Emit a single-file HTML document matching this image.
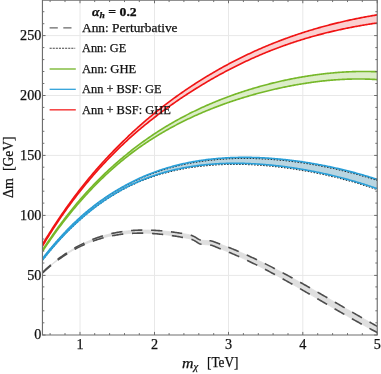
<!DOCTYPE html>
<html><head><meta charset="utf-8"><title>plot</title>
<style>
html,body{margin:0;padding:0;background:#fff}
body{width:381px;height:374px;position:relative;overflow:hidden;font-family:"Liberation Serif",serif;color:#111;-webkit-text-stroke:0.25px #111}
</style></head><body>
<div style="position:absolute;left:0;top:0;width:381px;height:374px;will-change:transform;opacity:0.999">
<svg width="381" height="374" viewBox="0 0 381 374" style="position:absolute;left:0;top:0"><defs><clipPath id="cp"><rect x="42.5" y="0.1" width="334.8" height="334.9"/></clipPath></defs><path d="M80.0,0.15 V335.0 M154.5,0.15 V335.0 M228.5,0.15 V335.0 M302.8,0.15 V335.0 M42.45,275.4 H377.25 M42.45,215.4 H377.25 M42.45,155.4 H377.25 M42.45,95.5 H377.25 M42.45,35.6 H377.25" stroke="#e8e8e8" stroke-width="1" fill="none"/><g clip-path="url(#cp)" fill="none"><path d="M42.5,272.43 L43.5,271.48 L44.5,270.54 L45.5,269.62 L46.5,268.71 L47.5,267.81 L48.5,266.92 L49.5,266.05 L50.5,265.19 L51.5,264.34 L52.5,263.51 L53.5,262.68 L54.5,261.87 L55.5,261.07 L56.5,260.29 L57.5,259.51 L58.5,258.75 L59.5,258.00 L60.5,257.26 L61.5,256.54 L62.5,255.82 L63.5,255.12 L64.5,254.43 L65.5,253.74 L66.5,253.08 L67.5,252.42 L68.5,251.77 L69.5,251.14 L70.5,250.51 L71.5,249.90 L72.5,249.30 L73.5,248.71 L74.5,248.12 L75.5,247.55 L76.5,247.00 L77.5,246.45 L78.5,245.91 L79.5,245.38 L80.5,244.86 L81.5,244.36 L82.5,243.86 L83.5,243.37 L84.5,242.90 L85.5,242.43 L86.5,241.98 L87.5,241.53 L88.5,241.09 L89.5,240.67 L90.5,240.25 L91.5,239.84 L92.5,239.44 L93.5,239.05 L94.5,238.68 L95.5,238.31 L96.5,237.94 L97.5,237.59 L98.5,237.25 L99.5,236.92 L100.5,236.59 L101.5,236.28 L102.5,235.97 L103.5,235.67 L104.5,235.38 L105.5,235.10 L106.5,234.83 L107.5,234.56 L108.5,234.31 L109.5,234.06 L110.5,233.82 L111.5,233.59 L112.5,233.37 L113.5,233.15 L114.5,232.95 L115.5,232.75 L116.5,232.55 L117.5,232.37 L118.5,232.20 L119.5,232.03 L120.5,231.87 L121.5,231.71 L122.5,231.57 L123.5,231.43 L124.5,231.29 L125.5,231.17 L126.5,231.05 L127.5,230.94 L128.4,230.84 L129.4,230.74 L130.4,230.65 L131.4,230.57 L132.4,230.49 L133.4,230.42 L134.4,230.36 L135.4,230.30 L136.4,230.25 L137.4,230.20 L138.4,230.16 L139.4,230.13 L140.4,230.11 L141.4,230.09 L142.4,230.07 L143.4,230.06 L144.4,230.06 L145.4,230.06 L146.4,230.07 L147.4,230.08 L148.4,230.10 L149.4,230.13 L150.4,230.16 L151.4,230.19 L152.4,230.23 L153.4,230.28 L154.4,230.33 L155.4,230.38 L156.4,230.44 L157.4,230.51 L158.4,230.58 L159.4,230.65 L160.4,230.73 L161.4,230.82 L162.4,230.91 L163.4,231.00 L164.4,231.09 L165.4,231.20 L166.4,231.30 L167.4,231.41 L168.4,231.52 L169.4,231.64 L170.4,231.76 L171.4,231.89 L172.4,232.02 L173.4,232.15 L174.4,232.28 L175.4,232.42 L176.4,232.57 L177.4,232.71 L178.4,232.86 L179.4,233.01 L180.4,233.17 L181.4,233.33 L182.4,233.49 L183.4,233.66 L184.4,233.83 L185.4,234.01 L186.4,234.19 L187.4,234.38 L188.4,234.59 L189.4,234.82 L190.4,235.08 L191.4,235.37 L192.4,235.73 L193.4,236.16 L194.4,236.61 L195.4,237.18 L196.4,237.81 L197.4,238.47 L198.4,239.09 L199.4,239.63 L200.4,240.02 L201.4,240.22 L202.4,240.30 L203.4,240.37 L204.4,240.43 L205.4,240.49 L206.4,240.54 L207.4,240.58 L208.4,240.64 L209.4,240.71 L210.4,240.80 L211.4,240.96 L212.4,241.21 L213.4,241.53 L214.4,241.90 L215.4,242.29 L216.4,242.69 L217.4,243.09 L218.4,243.49 L219.4,243.87 L220.4,244.25 L221.4,244.62 L222.4,244.99 L223.4,245.37 L224.4,245.74 L225.4,246.12 L226.4,246.51 L227.4,246.89 L228.4,247.28 L229.4,247.68 L230.4,248.08 L231.4,248.48 L232.4,248.88 L233.4,249.29 L234.4,249.70 L235.4,250.11 L236.4,250.53 L237.4,250.95 L238.4,251.37 L239.4,251.80 L240.4,252.23 L241.4,252.66 L242.4,253.10 L243.4,253.54 L244.4,253.98 L245.4,254.42 L246.4,254.87 L247.4,255.32 L248.4,255.77 L249.4,256.23 L250.4,256.69 L251.4,257.15 L252.4,257.61 L253.4,258.08 L254.4,258.55 L255.4,259.02 L256.4,259.49 L257.4,259.97 L258.4,260.45 L259.4,260.93 L260.4,261.42 L261.4,261.90 L262.4,262.39 L263.4,262.88 L264.4,263.38 L265.4,263.87 L266.4,264.37 L267.4,264.87 L268.4,265.37 L269.4,265.88 L270.4,266.39 L271.4,266.90 L272.4,267.41 L273.4,267.92 L274.4,268.44 L275.4,268.95 L276.4,269.47 L277.4,269.99 L278.4,270.52 L279.4,271.04 L280.4,271.57 L281.4,272.10 L282.4,272.63 L283.4,273.16 L284.4,273.69 L285.4,274.23 L286.4,274.77 L287.4,275.31 L288.4,275.85 L289.4,276.39 L290.4,276.93 L291.4,277.48 L292.4,278.02 L293.4,278.57 L294.4,279.12 L295.4,279.67 L296.4,280.22 L297.4,280.77 L298.4,281.33 L299.4,281.88 L300.4,282.44 L301.4,283.00 L302.4,283.56 L303.4,284.12 L304.4,284.68 L305.4,285.24 L306.4,285.80 L307.4,286.37 L308.4,286.93 L309.4,287.50 L310.4,288.07 L311.4,288.64 L312.4,289.20 L313.4,289.77 L314.4,290.34 L315.4,290.92 L316.4,291.49 L317.4,292.06 L318.4,292.63 L319.4,293.21 L320.4,293.78 L321.4,294.36 L322.4,294.93 L323.4,295.51 L324.4,296.08 L325.4,296.66 L326.4,297.24 L327.4,297.81 L328.4,298.39 L329.4,298.97 L330.4,299.55 L331.4,300.13 L332.4,300.71 L333.4,301.28 L334.4,301.86 L335.4,302.44 L336.4,303.02 L337.4,303.60 L338.4,304.18 L339.4,304.76 L340.4,305.34 L341.4,305.92 L342.4,306.50 L343.4,307.08 L344.4,307.66 L345.4,308.23 L346.4,308.81 L347.4,309.39 L348.4,309.97 L349.4,310.55 L350.4,311.12 L351.4,311.70 L352.4,312.28 L353.4,312.85 L354.4,313.43 L355.4,314.00 L356.4,314.58 L357.4,315.15 L358.4,315.72 L359.4,316.30 L360.4,316.87 L361.4,317.44 L362.4,318.01 L363.4,318.58 L364.4,319.15 L365.4,319.72 L366.4,320.28 L367.4,320.85 L368.4,321.42 L369.4,321.98 L370.4,322.54 L371.4,323.11 L372.4,323.67 L373.4,324.23 L374.4,324.79 L375.4,325.35 L377.2,326.35 L377.2,332.50 L375.4,331.55 L374.4,331.02 L373.4,330.49 L372.4,329.96 L371.4,329.43 L370.4,328.89 L369.4,328.35 L368.4,327.81 L367.4,327.27 L366.4,326.73 L365.4,326.19 L364.4,325.64 L363.4,325.09 L362.4,324.54 L361.4,323.99 L360.4,323.43 L359.4,322.88 L358.4,322.32 L357.4,321.77 L356.4,321.21 L355.4,320.65 L354.4,320.08 L353.4,319.52 L352.4,318.96 L351.4,318.39 L350.4,317.82 L349.4,317.26 L348.4,316.69 L347.4,316.12 L346.4,315.55 L345.4,314.97 L344.4,314.40 L343.4,313.83 L342.4,313.25 L341.4,312.68 L340.4,312.10 L339.4,311.52 L338.4,310.95 L337.4,310.37 L336.4,309.79 L335.4,309.21 L334.4,308.63 L333.4,308.05 L332.4,307.47 L331.4,306.88 L330.4,306.30 L329.4,305.72 L328.4,305.14 L327.4,304.55 L326.4,303.97 L325.4,303.39 L324.4,302.80 L323.4,302.22 L322.4,301.64 L321.4,301.05 L320.4,300.47 L319.4,299.89 L318.4,299.30 L317.4,298.72 L316.4,298.13 L315.4,297.55 L314.4,296.97 L313.4,296.39 L312.4,295.80 L311.4,295.22 L310.4,294.64 L309.4,294.06 L308.4,293.48 L307.4,292.90 L306.4,292.32 L305.4,291.74 L304.4,291.16 L303.4,290.58 L302.4,290.01 L301.4,289.43 L300.4,288.85 L299.4,288.28 L298.4,287.70 L297.4,287.13 L296.4,286.56 L295.4,285.99 L294.4,285.42 L293.4,284.85 L292.4,284.28 L291.4,283.72 L290.4,283.15 L289.4,282.59 L288.4,282.02 L287.4,281.46 L286.4,280.90 L285.4,280.34 L284.4,279.78 L283.4,279.23 L282.4,278.67 L281.4,278.12 L280.4,277.57 L279.4,277.02 L278.4,276.47 L277.4,275.92 L276.4,275.38 L275.4,274.83 L274.4,274.29 L273.4,273.75 L272.4,273.22 L271.4,272.68 L270.4,272.15 L269.4,271.61 L268.4,271.08 L267.4,270.56 L266.4,270.03 L265.4,269.51 L264.4,268.99 L263.4,268.47 L262.4,267.95 L261.4,267.44 L260.4,266.92 L259.4,266.41 L258.4,265.91 L257.4,265.40 L256.4,264.90 L255.4,264.40 L254.4,263.90 L253.4,263.41 L252.4,262.92 L251.4,262.43 L250.4,261.94 L249.4,261.46 L248.4,260.98 L247.4,260.50 L246.4,260.02 L245.4,259.55 L244.4,259.08 L243.4,258.62 L242.4,258.15 L241.4,257.69 L240.4,257.24 L239.4,256.78 L238.4,256.33 L237.4,255.89 L236.4,255.44 L235.4,255.00 L234.4,254.57 L233.4,254.13 L232.4,253.70 L231.4,253.27 L230.4,252.85 L229.4,252.43 L228.4,252.02 L227.4,251.60 L226.4,251.19 L225.4,250.79 L224.4,250.39 L223.4,249.99 L222.4,249.60 L221.4,249.21 L220.4,248.82 L219.4,248.42 L218.4,248.02 L217.4,247.60 L216.4,247.18 L215.4,246.75 L214.4,246.33 L213.4,245.93 L212.4,245.58 L211.4,245.29 L210.4,245.10 L209.4,244.99 L208.4,244.91 L207.4,244.84 L206.4,244.78 L205.4,244.71 L204.4,244.64 L203.4,244.55 L202.4,244.45 L201.4,244.32 L200.4,244.08 L199.4,243.67 L198.4,243.13 L197.4,242.50 L196.4,241.85 L195.4,241.20 L194.4,240.63 L193.4,240.13 L192.4,239.66 L191.4,239.28 L190.4,238.99 L189.4,238.75 L188.4,238.53 L187.4,238.33 L186.4,238.14 L185.4,237.95 L184.4,237.76 L183.4,237.57 L182.4,237.38 L181.4,237.19 L180.4,237.00 L179.4,236.82 L178.4,236.65 L177.4,236.49 L176.4,236.32 L175.4,236.16 L174.4,236.01 L173.4,235.85 L172.4,235.70 L171.4,235.56 L170.4,235.41 L169.4,235.27 L168.4,235.14 L167.4,235.00 L166.4,234.88 L165.4,234.75 L164.4,234.63 L163.4,234.51 L162.4,234.40 L161.4,234.29 L160.4,234.19 L159.4,234.09 L158.4,234.00 L157.4,233.91 L156.4,233.82 L155.4,233.74 L154.4,233.66 L153.4,233.59 L152.4,233.52 L151.4,233.46 L150.4,233.41 L149.4,233.35 L148.4,233.31 L147.4,233.27 L146.4,233.23 L145.4,233.20 L144.4,233.17 L143.4,233.15 L142.4,233.14 L141.4,233.13 L140.4,233.13 L139.4,233.13 L138.4,233.14 L137.4,233.16 L136.4,233.18 L135.4,233.21 L134.4,233.24 L133.4,233.28 L132.4,233.33 L131.4,233.38 L130.4,233.44 L129.4,233.51 L128.4,233.58 L127.5,233.66 L126.5,233.75 L125.5,233.84 L124.5,233.94 L123.5,234.05 L122.5,234.16 L121.5,234.28 L120.5,234.41 L119.5,234.55 L118.5,234.69 L117.5,234.84 L116.5,235.00 L115.5,235.17 L114.5,235.34 L113.5,235.52 L112.5,235.71 L111.5,235.91 L110.5,236.12 L109.5,236.33 L108.5,236.55 L107.5,236.78 L106.5,237.02 L105.5,237.27 L104.5,237.52 L103.5,237.79 L102.5,238.06 L101.5,238.34 L100.5,238.63 L99.5,238.93 L98.5,239.23 L97.5,239.55 L96.5,239.88 L95.5,240.21 L94.5,240.56 L93.5,240.91 L92.5,241.27 L91.5,241.64 L90.5,242.02 L89.5,242.42 L88.5,242.82 L87.5,243.23 L86.5,243.65 L85.5,244.08 L84.5,244.52 L83.5,244.97 L82.5,245.43 L81.5,245.90 L80.5,246.38 L79.5,246.87 L78.5,247.37 L77.5,247.88 L76.5,248.40 L75.5,248.94 L74.5,249.48 L73.5,250.03 L72.5,250.60 L71.5,251.18 L70.5,251.76 L69.5,252.36 L68.5,252.97 L67.5,253.59 L66.5,254.22 L65.5,254.86 L64.5,255.52 L63.5,256.19 L62.5,256.86 L61.5,257.55 L60.5,258.25 L59.5,258.97 L58.5,259.69 L57.5,260.43 L56.5,261.18 L55.5,261.94 L54.5,262.71 L53.5,263.49 L52.5,264.29 L51.5,265.10 L50.5,265.92 L49.5,266.76 L48.5,267.61 L47.5,268.47 L46.5,269.34 L45.5,270.23 L44.5,271.12 L43.5,272.04 L42.5,272.96Z" fill="#dfdfdf" stroke="#dfdfdf" stroke-width="1"/><path d="M42.5,272.43 L43.5,271.48 L44.5,270.54 L45.5,269.62 L46.5,268.71 L47.5,267.81 L48.5,266.92 L49.5,266.05 L50.5,265.19 L51.5,264.34 L52.5,263.51 L53.5,262.68 L54.5,261.87 L55.5,261.07 L56.5,260.29 L57.5,259.51 L58.5,258.75 L59.5,258.00 L60.5,257.26 L61.5,256.54 L62.5,255.82 L63.5,255.12 L64.5,254.43 L65.5,253.74 L66.5,253.08 L67.5,252.42 L68.5,251.77 L69.5,251.14 L70.5,250.51 L71.5,249.90 L72.5,249.30 L73.5,248.71 L74.5,248.12 L75.5,247.55 L76.5,247.00 L77.5,246.45 L78.5,245.91 L79.5,245.38 L80.5,244.86 L81.5,244.36 L82.5,243.86 L83.5,243.37 L84.5,242.90 L85.5,242.43 L86.5,241.98 L87.5,241.53 L88.5,241.09 L89.5,240.67 L90.5,240.25 L91.5,239.84 L92.5,239.44 L93.5,239.05 L94.5,238.68 L95.5,238.31 L96.5,237.94 L97.5,237.59 L98.5,237.25 L99.5,236.92 L100.5,236.59 L101.5,236.28 L102.5,235.97 L103.5,235.67 L104.5,235.38 L105.5,235.10 L106.5,234.83 L107.5,234.56 L108.5,234.31 L109.5,234.06 L110.5,233.82 L111.5,233.59 L112.5,233.37 L113.5,233.15 L114.5,232.95 L115.5,232.75 L116.5,232.55 L117.5,232.37 L118.5,232.20 L119.5,232.03 L120.5,231.87 L121.5,231.71 L122.5,231.57 L123.5,231.43 L124.5,231.29 L125.5,231.17 L126.5,231.05 L127.5,230.94 L128.4,230.84 L129.4,230.74 L130.4,230.65 L131.4,230.57 L132.4,230.49 L133.4,230.42 L134.4,230.36 L135.4,230.30 L136.4,230.25 L137.4,230.20 L138.4,230.16 L139.4,230.13 L140.4,230.11 L141.4,230.09 L142.4,230.07 L143.4,230.06 L144.4,230.06 L145.4,230.06 L146.4,230.07 L147.4,230.08 L148.4,230.10 L149.4,230.13 L150.4,230.16 L151.4,230.19 L152.4,230.23 L153.4,230.28 L154.4,230.33 L155.4,230.38 L156.4,230.44 L157.4,230.51 L158.4,230.58 L159.4,230.65 L160.4,230.73 L161.4,230.82 L162.4,230.91 L163.4,231.00 L164.4,231.09 L165.4,231.20 L166.4,231.30 L167.4,231.41 L168.4,231.52 L169.4,231.64 L170.4,231.76 L171.4,231.89 L172.4,232.02 L173.4,232.15 L174.4,232.28 L175.4,232.42 L176.4,232.57 L177.4,232.71 L178.4,232.86 L179.4,233.01 L180.4,233.17 L181.4,233.33 L182.4,233.49 L183.4,233.66 L184.4,233.83 L185.4,234.01 L186.4,234.19 L187.4,234.38 L188.4,234.59 L189.4,234.82 L190.4,235.08 L191.4,235.37 L192.4,235.73 L193.4,236.16 L194.4,236.61 L195.4,237.18 L196.4,237.81 L197.4,238.47 L198.4,239.09 L199.4,239.63 L200.4,240.02 L201.4,240.22 L202.4,240.30 L203.4,240.37 L204.4,240.43 L205.4,240.49 L206.4,240.54 L207.4,240.58 L208.4,240.64 L209.4,240.71 L210.4,240.80 L211.4,240.96 L212.4,241.21 L213.4,241.53 L214.4,241.90 L215.4,242.29 L216.4,242.69 L217.4,243.09 L218.4,243.49 L219.4,243.87 L220.4,244.25 L221.4,244.62 L222.4,244.99 L223.4,245.37 L224.4,245.74 L225.4,246.12 L226.4,246.51 L227.4,246.89 L228.4,247.28 L229.4,247.68 L230.4,248.08 L231.4,248.48 L232.4,248.88 L233.4,249.29 L234.4,249.70 L235.4,250.11 L236.4,250.53 L237.4,250.95 L238.4,251.37 L239.4,251.80 L240.4,252.23 L241.4,252.66 L242.4,253.10 L243.4,253.54 L244.4,253.98 L245.4,254.42 L246.4,254.87 L247.4,255.32 L248.4,255.77 L249.4,256.23 L250.4,256.69 L251.4,257.15 L252.4,257.61 L253.4,258.08 L254.4,258.55 L255.4,259.02 L256.4,259.49 L257.4,259.97 L258.4,260.45 L259.4,260.93 L260.4,261.42 L261.4,261.90 L262.4,262.39 L263.4,262.88 L264.4,263.38 L265.4,263.87 L266.4,264.37 L267.4,264.87 L268.4,265.37 L269.4,265.88 L270.4,266.39 L271.4,266.90 L272.4,267.41 L273.4,267.92 L274.4,268.44 L275.4,268.95 L276.4,269.47 L277.4,269.99 L278.4,270.52 L279.4,271.04 L280.4,271.57 L281.4,272.10 L282.4,272.63 L283.4,273.16 L284.4,273.69 L285.4,274.23 L286.4,274.77 L287.4,275.31 L288.4,275.85 L289.4,276.39 L290.4,276.93 L291.4,277.48 L292.4,278.02 L293.4,278.57 L294.4,279.12 L295.4,279.67 L296.4,280.22 L297.4,280.77 L298.4,281.33 L299.4,281.88 L300.4,282.44 L301.4,283.00 L302.4,283.56 L303.4,284.12 L304.4,284.68 L305.4,285.24 L306.4,285.80 L307.4,286.37 L308.4,286.93 L309.4,287.50 L310.4,288.07 L311.4,288.64 L312.4,289.20 L313.4,289.77 L314.4,290.34 L315.4,290.92 L316.4,291.49 L317.4,292.06 L318.4,292.63 L319.4,293.21 L320.4,293.78 L321.4,294.36 L322.4,294.93 L323.4,295.51 L324.4,296.08 L325.4,296.66 L326.4,297.24 L327.4,297.81 L328.4,298.39 L329.4,298.97 L330.4,299.55 L331.4,300.13 L332.4,300.71 L333.4,301.28 L334.4,301.86 L335.4,302.44 L336.4,303.02 L337.4,303.60 L338.4,304.18 L339.4,304.76 L340.4,305.34 L341.4,305.92 L342.4,306.50 L343.4,307.08 L344.4,307.66 L345.4,308.23 L346.4,308.81 L347.4,309.39 L348.4,309.97 L349.4,310.55 L350.4,311.12 L351.4,311.70 L352.4,312.28 L353.4,312.85 L354.4,313.43 L355.4,314.00 L356.4,314.58 L357.4,315.15 L358.4,315.72 L359.4,316.30 L360.4,316.87 L361.4,317.44 L362.4,318.01 L363.4,318.58 L364.4,319.15 L365.4,319.72 L366.4,320.28 L367.4,320.85 L368.4,321.42 L369.4,321.98 L370.4,322.54 L371.4,323.11 L372.4,323.67 L373.4,324.23 L374.4,324.79 L375.4,325.35 L377.2,326.35" stroke="#4d4d4d" stroke-width="1.6" stroke-dasharray="11.3 8.7"/><path d="M42.5,272.96 L43.5,272.04 L44.5,271.12 L45.5,270.23 L46.5,269.34 L47.5,268.47 L48.5,267.61 L49.5,266.76 L50.5,265.92 L51.5,265.10 L52.5,264.29 L53.5,263.49 L54.5,262.71 L55.5,261.94 L56.5,261.18 L57.5,260.43 L58.5,259.69 L59.5,258.97 L60.5,258.25 L61.5,257.55 L62.5,256.86 L63.5,256.19 L64.5,255.52 L65.5,254.86 L66.5,254.22 L67.5,253.59 L68.5,252.97 L69.5,252.36 L70.5,251.76 L71.5,251.18 L72.5,250.60 L73.5,250.03 L74.5,249.48 L75.5,248.94 L76.5,248.40 L77.5,247.88 L78.5,247.37 L79.5,246.87 L80.5,246.38 L81.5,245.90 L82.5,245.43 L83.5,244.97 L84.5,244.52 L85.5,244.08 L86.5,243.65 L87.5,243.23 L88.5,242.82 L89.5,242.42 L90.5,242.02 L91.5,241.64 L92.5,241.27 L93.5,240.91 L94.5,240.56 L95.5,240.21 L96.5,239.88 L97.5,239.55 L98.5,239.23 L99.5,238.93 L100.5,238.63 L101.5,238.34 L102.5,238.06 L103.5,237.79 L104.5,237.52 L105.5,237.27 L106.5,237.02 L107.5,236.78 L108.5,236.55 L109.5,236.33 L110.5,236.12 L111.5,235.91 L112.5,235.71 L113.5,235.52 L114.5,235.34 L115.5,235.17 L116.5,235.00 L117.5,234.84 L118.5,234.69 L119.5,234.55 L120.5,234.41 L121.5,234.28 L122.5,234.16 L123.5,234.05 L124.5,233.94 L125.5,233.84 L126.5,233.75 L127.5,233.66 L128.4,233.58 L129.4,233.51 L130.4,233.44 L131.4,233.38 L132.4,233.33 L133.4,233.28 L134.4,233.24 L135.4,233.21 L136.4,233.18 L137.4,233.16 L138.4,233.14 L139.4,233.13 L140.4,233.13 L141.4,233.13 L142.4,233.14 L143.4,233.15 L144.4,233.17 L145.4,233.20 L146.4,233.23 L147.4,233.27 L148.4,233.31 L149.4,233.35 L150.4,233.41 L151.4,233.46 L152.4,233.52 L153.4,233.59 L154.4,233.66 L155.4,233.74 L156.4,233.82 L157.4,233.91 L158.4,234.00 L159.4,234.09 L160.4,234.19 L161.4,234.29 L162.4,234.40 L163.4,234.51 L164.4,234.63 L165.4,234.75 L166.4,234.88 L167.4,235.00 L168.4,235.14 L169.4,235.27 L170.4,235.41 L171.4,235.56 L172.4,235.70 L173.4,235.85 L174.4,236.01 L175.4,236.16 L176.4,236.32 L177.4,236.49 L178.4,236.65 L179.4,236.82 L180.4,237.00 L181.4,237.19 L182.4,237.38 L183.4,237.57 L184.4,237.76 L185.4,237.95 L186.4,238.14 L187.4,238.33 L188.4,238.53 L189.4,238.75 L190.4,238.99 L191.4,239.28 L192.4,239.66 L193.4,240.13 L194.4,240.63 L195.4,241.20 L196.4,241.85 L197.4,242.50 L198.4,243.13 L199.4,243.67 L200.4,244.08 L201.4,244.32 L202.4,244.45 L203.4,244.55 L204.4,244.64 L205.4,244.71 L206.4,244.78 L207.4,244.84 L208.4,244.91 L209.4,244.99 L210.4,245.10 L211.4,245.29 L212.4,245.58 L213.4,245.93 L214.4,246.33 L215.4,246.75 L216.4,247.18 L217.4,247.60 L218.4,248.02 L219.4,248.42 L220.4,248.82 L221.4,249.21 L222.4,249.60 L223.4,249.99 L224.4,250.39 L225.4,250.79 L226.4,251.19 L227.4,251.60 L228.4,252.02 L229.4,252.43 L230.4,252.85 L231.4,253.27 L232.4,253.70 L233.4,254.13 L234.4,254.57 L235.4,255.00 L236.4,255.44 L237.4,255.89 L238.4,256.33 L239.4,256.78 L240.4,257.24 L241.4,257.69 L242.4,258.15 L243.4,258.62 L244.4,259.08 L245.4,259.55 L246.4,260.02 L247.4,260.50 L248.4,260.98 L249.4,261.46 L250.4,261.94 L251.4,262.43 L252.4,262.92 L253.4,263.41 L254.4,263.90 L255.4,264.40 L256.4,264.90 L257.4,265.40 L258.4,265.91 L259.4,266.41 L260.4,266.92 L261.4,267.44 L262.4,267.95 L263.4,268.47 L264.4,268.99 L265.4,269.51 L266.4,270.03 L267.4,270.56 L268.4,271.08 L269.4,271.61 L270.4,272.15 L271.4,272.68 L272.4,273.22 L273.4,273.75 L274.4,274.29 L275.4,274.83 L276.4,275.38 L277.4,275.92 L278.4,276.47 L279.4,277.02 L280.4,277.57 L281.4,278.12 L282.4,278.67 L283.4,279.23 L284.4,279.78 L285.4,280.34 L286.4,280.90 L287.4,281.46 L288.4,282.02 L289.4,282.59 L290.4,283.15 L291.4,283.72 L292.4,284.28 L293.4,284.85 L294.4,285.42 L295.4,285.99 L296.4,286.56 L297.4,287.13 L298.4,287.70 L299.4,288.28 L300.4,288.85 L301.4,289.43 L302.4,290.01 L303.4,290.58 L304.4,291.16 L305.4,291.74 L306.4,292.32 L307.4,292.90 L308.4,293.48 L309.4,294.06 L310.4,294.64 L311.4,295.22 L312.4,295.80 L313.4,296.39 L314.4,296.97 L315.4,297.55 L316.4,298.13 L317.4,298.72 L318.4,299.30 L319.4,299.89 L320.4,300.47 L321.4,301.05 L322.4,301.64 L323.4,302.22 L324.4,302.80 L325.4,303.39 L326.4,303.97 L327.4,304.55 L328.4,305.14 L329.4,305.72 L330.4,306.30 L331.4,306.88 L332.4,307.47 L333.4,308.05 L334.4,308.63 L335.4,309.21 L336.4,309.79 L337.4,310.37 L338.4,310.95 L339.4,311.52 L340.4,312.10 L341.4,312.68 L342.4,313.25 L343.4,313.83 L344.4,314.40 L345.4,314.97 L346.4,315.55 L347.4,316.12 L348.4,316.69 L349.4,317.26 L350.4,317.82 L351.4,318.39 L352.4,318.96 L353.4,319.52 L354.4,320.08 L355.4,320.65 L356.4,321.21 L357.4,321.77 L358.4,322.32 L359.4,322.88 L360.4,323.43 L361.4,323.99 L362.4,324.54 L363.4,325.09 L364.4,325.64 L365.4,326.19 L366.4,326.73 L367.4,327.27 L368.4,327.81 L369.4,328.35 L370.4,328.89 L371.4,329.43 L372.4,329.96 L373.4,330.49 L374.4,331.02 L375.4,331.55 L377.2,332.50" stroke="#4d4d4d" stroke-width="1.6" stroke-dasharray="11.3 8.7"/><path d="M42.5,258.64 L43.5,257.34 L44.5,256.06 L45.5,254.80 L46.5,253.54 L47.5,252.29 L48.5,251.06 L49.5,249.84 L50.5,248.63 L51.5,247.42 L52.5,246.23 L53.5,245.06 L54.5,243.89 L55.5,242.73 L56.5,241.58 L57.5,240.45 L58.5,239.32 L59.5,238.21 L60.5,237.10 L61.5,236.01 L62.5,234.92 L63.5,233.85 L64.5,232.79 L65.5,231.73 L66.5,230.69 L67.5,229.66 L68.5,228.63 L69.5,227.62 L70.5,226.62 L71.5,225.62 L72.5,224.64 L73.5,223.66 L74.5,222.70 L75.5,221.74 L76.5,220.80 L77.5,219.86 L78.5,218.93 L79.5,218.01 L80.5,217.11 L81.5,216.22 L82.5,215.34 L83.5,214.47 L84.5,213.61 L85.5,212.75 L86.5,211.91 L87.5,211.07 L88.5,210.25 L89.5,209.43 L90.5,208.62 L91.5,207.82 L92.5,207.03 L93.5,206.24 L94.5,205.47 L95.5,204.70 L96.5,203.94 L97.5,203.19 L98.5,202.45 L99.5,201.71 L100.5,200.99 L101.5,200.27 L102.5,199.56 L103.5,198.86 L104.5,198.16 L105.5,197.48 L106.5,196.80 L107.5,196.13 L108.5,195.47 L109.5,194.81 L110.5,194.16 L111.5,193.52 L112.5,192.89 L113.5,192.27 L114.5,191.65 L115.5,191.04 L116.5,190.43 L117.5,189.84 L118.5,189.25 L119.5,188.67 L120.5,188.09 L121.5,187.53 L122.5,186.97 L123.5,186.41 L124.5,185.87 L125.5,185.32 L126.5,184.78 L127.5,184.24 L128.4,183.71 L129.4,183.19 L130.4,182.67 L131.4,182.16 L132.4,181.66 L133.4,181.17 L134.4,180.68 L135.4,180.19 L136.4,179.71 L137.4,179.24 L138.4,178.78 L139.4,178.32 L140.4,177.87 L141.4,177.42 L142.4,176.98 L143.4,176.55 L144.4,176.12 L145.4,175.70 L146.4,175.28 L147.4,174.87 L148.4,174.47 L149.4,174.07 L150.4,173.67 L151.4,173.29 L152.4,172.91 L153.4,172.53 L154.4,172.16 L155.4,171.79 L156.4,171.44 L157.4,171.08 L158.4,170.73 L159.4,170.39 L160.4,170.05 L161.4,169.72 L162.4,169.39 L163.4,169.07 L164.4,168.76 L165.4,168.44 L166.4,168.14 L167.4,167.84 L168.4,167.54 L169.4,167.25 L170.4,166.96 L171.4,166.68 L172.4,166.41 L173.4,166.13 L174.4,165.87 L175.4,165.61 L176.4,165.35 L177.4,165.10 L178.4,164.85 L179.4,164.61 L180.4,164.37 L181.4,164.13 L182.4,163.90 L183.4,163.68 L184.4,163.46 L185.4,163.24 L186.4,163.03 L187.4,162.83 L188.4,162.62 L189.4,162.43 L190.4,162.23 L191.4,162.04 L192.4,161.86 L193.4,161.68 L194.4,161.50 L195.4,161.33 L196.4,161.16 L197.4,160.99 L198.4,160.83 L199.4,160.68 L200.4,160.52 L201.4,160.37 L202.4,160.23 L203.4,160.09 L204.4,159.95 L205.4,159.82 L206.4,159.69 L207.4,159.57 L208.4,159.44 L209.4,159.33 L210.4,159.21 L211.4,159.10 L212.4,159.00 L213.4,158.89 L214.4,158.79 L215.4,158.70 L216.4,158.60 L217.4,158.52 L218.4,158.43 L219.4,158.35 L220.4,158.27 L221.4,158.20 L222.4,158.12 L223.4,158.06 L224.4,157.99 L225.4,157.93 L226.4,157.87 L227.4,157.82 L228.4,157.77 L229.4,157.72 L230.4,157.67 L231.4,157.63 L232.4,157.59 L233.4,157.56 L234.4,157.53 L235.4,157.50 L236.4,157.47 L237.4,157.45 L238.4,157.43 L239.4,157.41 L240.4,157.40 L241.4,157.39 L242.4,157.38 L243.4,157.38 L244.4,157.37 L245.4,157.38 L246.4,157.38 L247.4,157.39 L248.4,157.40 L249.4,157.41 L250.4,157.43 L251.4,157.44 L252.4,157.47 L253.4,157.49 L254.4,157.52 L255.4,157.55 L256.4,157.58 L257.4,157.61 L258.4,157.65 L259.4,157.69 L260.4,157.74 L261.4,157.78 L262.4,157.83 L263.4,157.88 L264.4,157.94 L265.4,157.99 L266.4,158.05 L267.4,158.12 L268.4,158.18 L269.4,158.25 L270.4,158.32 L271.4,158.39 L272.4,158.46 L273.4,158.54 L274.4,158.62 L275.4,158.70 L276.4,158.79 L277.4,158.88 L278.4,158.96 L279.4,159.06 L280.4,159.15 L281.4,159.25 L282.4,159.35 L283.4,159.45 L284.4,159.56 L285.4,159.66 L286.4,159.77 L287.4,159.88 L288.4,160.00 L289.4,160.11 L290.4,160.23 L291.4,160.35 L292.4,160.48 L293.4,160.60 L294.4,160.73 L295.4,160.86 L296.4,160.99 L297.4,161.13 L298.4,161.27 L299.4,161.41 L300.4,161.55 L301.4,161.69 L302.4,161.84 L303.4,161.99 L304.4,162.14 L305.4,162.30 L306.4,162.45 L307.4,162.61 L308.4,162.77 L309.4,162.93 L310.4,163.10 L311.4,163.27 L312.4,163.44 L313.4,163.61 L314.4,163.78 L315.4,163.96 L316.4,164.14 L317.4,164.32 L318.4,164.50 L319.4,164.69 L320.4,164.88 L321.4,165.07 L322.4,165.26 L323.4,165.45 L324.4,165.65 L325.4,165.85 L326.4,166.05 L327.4,166.26 L328.4,166.46 L329.4,166.67 L330.4,166.88 L331.4,167.09 L332.4,167.31 L333.4,167.53 L334.4,167.75 L335.4,167.97 L336.4,168.19 L337.4,168.42 L338.4,168.65 L339.4,168.88 L340.4,169.12 L341.4,169.35 L342.4,169.59 L343.4,169.83 L344.4,170.07 L345.4,170.32 L346.4,170.57 L347.4,170.82 L348.4,171.07 L349.4,171.33 L350.4,171.58 L351.4,171.84 L352.4,172.10 L353.4,172.37 L354.4,172.64 L355.4,172.91 L356.4,173.18 L357.4,173.45 L358.4,173.73 L359.4,174.01 L360.4,174.29 L361.4,174.57 L362.4,174.86 L363.4,175.15 L364.4,175.44 L365.4,175.74 L366.4,176.03 L367.4,176.33 L368.4,176.63 L369.4,176.94 L370.4,177.25 L371.4,177.56 L372.4,177.87 L373.4,178.18 L374.4,178.50 L375.4,178.82 L377.2,179.40 L377.2,188.65 L375.4,188.03 L374.4,187.69 L373.4,187.35 L372.4,187.01 L371.4,186.67 L370.4,186.34 L369.4,186.01 L368.4,185.68 L367.4,185.36 L366.4,185.04 L365.4,184.72 L364.4,184.40 L363.4,184.09 L362.4,183.77 L361.4,183.46 L360.4,183.16 L359.4,182.85 L358.4,182.55 L357.4,182.25 L356.4,181.96 L355.4,181.66 L354.4,181.37 L353.4,181.08 L352.4,180.79 L351.4,180.51 L350.4,180.23 L349.4,179.95 L348.4,179.67 L347.4,179.40 L346.4,179.12 L345.4,178.85 L344.4,178.58 L343.4,178.32 L342.4,178.06 L341.4,177.80 L340.4,177.54 L339.4,177.28 L338.4,177.03 L337.4,176.77 L336.4,176.53 L335.4,176.28 L334.4,176.03 L333.4,175.79 L332.4,175.55 L331.4,175.31 L330.4,175.08 L329.4,174.84 L328.4,174.61 L327.4,174.38 L326.4,174.16 L325.4,173.93 L324.4,173.71 L323.4,173.49 L322.4,173.27 L321.4,173.06 L320.4,172.85 L319.4,172.63 L318.4,172.43 L317.4,172.22 L316.4,172.02 L315.4,171.81 L314.4,171.61 L313.4,171.42 L312.4,171.22 L311.4,171.03 L310.4,170.84 L309.4,170.65 L308.4,170.46 L307.4,170.28 L306.4,170.10 L305.4,169.92 L304.4,169.74 L303.4,169.56 L302.4,169.39 L301.4,169.22 L300.4,169.05 L299.4,168.89 L298.4,168.72 L297.4,168.56 L296.4,168.40 L295.4,168.24 L294.4,168.09 L293.4,167.94 L292.4,167.79 L291.4,167.64 L290.4,167.49 L289.4,167.35 L288.4,167.21 L287.4,167.07 L286.4,166.93 L285.4,166.80 L284.4,166.67 L283.4,166.54 L282.4,166.41 L281.4,166.29 L280.4,166.16 L279.4,166.04 L278.4,165.93 L277.4,165.81 L276.4,165.70 L275.4,165.59 L274.4,165.48 L273.4,165.38 L272.4,165.27 L271.4,165.17 L270.4,165.07 L269.4,164.98 L268.4,164.88 L267.4,164.79 L266.4,164.71 L265.4,164.62 L264.4,164.54 L263.4,164.46 L262.4,164.38 L261.4,164.30 L260.4,164.23 L259.4,164.16 L258.4,164.09 L257.4,164.03 L256.4,163.97 L255.4,163.91 L254.4,163.85 L253.4,163.80 L252.4,163.75 L251.4,163.70 L250.4,163.65 L249.4,163.61 L248.4,163.57 L247.4,163.53 L246.4,163.50 L245.4,163.46 L244.4,163.43 L243.4,163.41 L242.4,163.39 L241.4,163.37 L240.4,163.35 L239.4,163.33 L238.4,163.32 L237.4,163.31 L236.4,163.31 L235.4,163.31 L234.4,163.31 L233.4,163.31 L232.4,163.32 L231.4,163.33 L230.4,163.34 L229.4,163.35 L228.4,163.37 L227.4,163.40 L226.4,163.42 L225.4,163.45 L224.4,163.48 L223.4,163.52 L222.4,163.56 L221.4,163.60 L220.4,163.64 L219.4,163.69 L218.4,163.75 L217.4,163.80 L216.4,163.86 L215.4,163.92 L214.4,163.99 L213.4,164.06 L212.4,164.13 L211.4,164.21 L210.4,164.29 L209.4,164.37 L208.4,164.46 L207.4,164.55 L206.4,164.65 L205.4,164.75 L204.4,164.85 L203.4,164.96 L202.4,165.07 L201.4,165.18 L200.4,165.30 L199.4,165.42 L198.4,165.55 L197.4,165.68 L196.4,165.81 L195.4,165.95 L194.4,166.09 L193.4,166.24 L192.4,166.39 L191.4,166.54 L190.4,166.70 L189.4,166.86 L188.4,167.03 L187.4,167.20 L186.4,167.38 L185.4,167.56 L184.4,167.74 L183.4,167.93 L182.4,168.12 L181.4,168.32 L180.4,168.53 L179.4,168.73 L178.4,168.94 L177.4,169.16 L176.4,169.38 L175.4,169.61 L174.4,169.84 L173.4,170.07 L172.4,170.31 L171.4,170.56 L170.4,170.81 L169.4,171.06 L168.4,171.32 L167.4,171.59 L166.4,171.86 L165.4,172.13 L164.4,172.41 L163.4,172.70 L162.4,172.99 L161.4,173.28 L160.4,173.58 L159.4,173.89 L158.4,174.20 L157.4,174.52 L156.4,174.84 L155.4,175.17 L154.4,175.50 L153.4,175.84 L152.4,176.19 L151.4,176.54 L150.4,176.89 L149.4,177.25 L148.4,177.62 L147.4,178.00 L146.4,178.37 L145.4,178.76 L144.4,179.15 L143.4,179.55 L142.4,179.95 L141.4,180.36 L140.4,180.77 L139.4,181.20 L138.4,181.62 L137.4,182.06 L136.4,182.50 L135.4,182.95 L134.4,183.40 L133.4,183.86 L132.4,184.32 L131.4,184.80 L130.4,185.28 L129.4,185.76 L128.4,186.25 L127.5,186.75 L126.5,187.26 L125.5,187.77 L124.5,188.30 L123.5,188.83 L122.5,189.38 L121.5,189.93 L120.5,190.49 L119.5,191.05 L118.5,191.62 L117.5,192.20 L116.5,192.79 L115.5,193.38 L114.5,193.98 L113.5,194.59 L112.5,195.21 L111.5,195.83 L110.5,196.46 L109.5,197.10 L108.5,197.75 L107.5,198.40 L106.5,199.07 L105.5,199.74 L104.5,200.41 L103.5,201.10 L102.5,201.80 L101.5,202.50 L100.5,203.21 L99.5,203.93 L98.5,204.65 L97.5,205.39 L96.5,206.13 L95.5,206.88 L94.5,207.64 L93.5,208.41 L92.5,209.19 L91.5,209.98 L90.5,210.77 L89.5,211.58 L88.5,212.39 L87.5,213.21 L86.5,214.04 L85.5,214.88 L84.5,215.73 L83.5,216.59 L82.5,217.45 L81.5,218.33 L80.5,219.21 L79.5,220.10 L78.5,221.00 L77.5,221.90 L76.5,222.81 L75.5,223.74 L74.5,224.67 L73.5,225.61 L72.5,226.56 L71.5,227.52 L70.5,228.50 L69.5,229.48 L68.5,230.47 L67.5,231.47 L66.5,232.48 L65.5,233.51 L64.5,234.54 L63.5,235.58 L62.5,236.63 L61.5,237.70 L60.5,238.77 L59.5,239.86 L58.5,240.95 L57.5,242.06 L56.5,243.18 L55.5,244.31 L54.5,245.45 L53.5,246.60 L52.5,247.76 L51.5,248.93 L50.5,250.11 L49.5,251.31 L48.5,252.52 L47.5,253.73 L46.5,254.96 L45.5,256.20 L44.5,257.46 L43.5,258.72 L42.5,260.00Z" fill="#b9d5e1"/><path d="M42.5,258.79 L43.5,257.49 L44.5,256.21 L45.5,254.95 L46.5,253.69 L47.5,252.44 L48.5,251.21 L49.5,249.99 L50.5,248.78 L51.5,247.57 L52.5,246.38 L53.5,245.21 L54.5,244.04 L55.5,242.88 L56.5,241.73 L57.5,240.60 L58.5,239.47 L59.5,238.36 L60.5,237.25 L61.5,236.16 L62.5,235.07 L63.5,234.00 L64.5,232.94 L65.5,231.88 L66.5,230.84 L67.5,229.81 L68.5,228.78 L69.5,227.77 L70.5,226.77 L71.5,225.77 L72.5,224.79 L73.5,223.81 L74.5,222.85 L75.5,221.89 L76.5,220.95 L77.5,220.01 L78.5,219.08 L79.5,218.16 L80.5,217.26 L81.5,216.37 L82.5,215.49 L83.5,214.62 L84.5,213.76 L85.5,212.90 L86.5,212.06 L87.5,211.22 L88.5,210.40 L89.5,209.58 L90.5,208.77 L91.5,207.98 L92.5,207.19 L93.5,206.42 L94.5,205.65 L95.5,204.89 L96.5,204.14 L97.5,203.40 L98.5,202.66 L99.5,201.94 L100.5,201.22 L101.5,200.51 L102.5,199.81 L103.5,199.11 L104.5,198.43 L105.5,197.75 L106.5,197.08 L107.5,196.41 L108.5,195.76 L109.5,195.11 L110.5,194.47 L111.5,193.84 L112.5,193.21 L113.5,192.60 L114.5,191.99 L115.5,191.38 L116.5,190.79 L117.5,190.20 L118.5,189.62 L119.5,189.05 L120.5,188.48 L121.5,187.92 L122.5,187.37 L123.5,186.82 L124.5,186.28 L125.5,185.75 L126.5,185.21 L127.5,184.68 L128.4,184.16 L129.4,183.65 L130.4,183.14 L131.4,182.64 L132.4,182.14 L133.4,181.65 L134.4,181.17 L135.4,180.69 L136.4,180.22 L137.4,179.76 L138.4,179.30 L139.4,178.85 L140.4,178.41 L141.4,177.97 L142.4,177.54 L143.4,177.11 L144.4,176.69 L145.4,176.28 L146.4,175.87 L147.4,175.46 L148.4,175.07 L149.4,174.68 L150.4,174.29 L151.4,173.91 L152.4,173.54 L153.4,173.17 L154.4,172.81 L155.4,172.45 L156.4,172.10 L157.4,171.75 L158.4,171.41 L159.4,171.08 L160.4,170.75 L161.4,170.42 L162.4,170.10 L163.4,169.79 L164.4,169.48 L165.4,169.18 L166.4,168.88 L167.4,168.58 L168.4,168.30 L169.4,168.01 L170.4,167.73 L171.4,167.46 L172.4,167.19 L173.4,166.93 L174.4,166.67 L175.4,166.42 L176.4,166.17 L177.4,165.92 L178.4,165.68 L179.4,165.45 L180.4,165.22 L181.4,164.99 L182.4,164.77 L183.4,164.55 L184.4,164.34 L185.4,164.13 L186.4,163.93 L187.4,163.73 L188.4,163.53 L189.4,163.34 L190.4,163.16 L191.4,162.98 L192.4,162.80 L193.4,162.63 L194.4,162.46 L195.4,162.29 L196.4,162.13 L197.4,161.97 L198.4,161.82 L199.4,161.67 L200.4,161.52 L201.4,161.37 L202.4,161.23 L203.4,161.09 L204.4,160.95 L205.4,160.82 L206.4,160.69 L207.4,160.57 L208.4,160.44 L209.4,160.33 L210.4,160.21 L211.4,160.10 L212.4,160.00 L213.4,159.89 L214.4,159.79 L215.4,159.70 L216.4,159.60 L217.4,159.52 L218.4,159.43 L219.4,159.35 L220.4,159.27 L221.4,159.20 L222.4,159.12 L223.4,159.06 L224.4,158.99 L225.4,158.93 L226.4,158.87 L227.4,158.82 L228.4,158.77 L229.4,158.72 L230.4,158.67 L231.4,158.63 L232.4,158.59 L233.4,158.56 L234.4,158.53 L235.4,158.50 L236.4,158.47 L237.4,158.45 L238.4,158.43 L239.4,158.41 L240.4,158.40 L241.4,158.39 L242.4,158.38 L243.4,158.38 L244.4,158.37 L245.4,158.38 L246.4,158.38 L247.4,158.39 L248.4,158.40 L249.4,158.41 L250.4,158.43 L251.4,158.44 L252.4,158.47 L253.4,158.49 L254.4,158.52 L255.4,158.55 L256.4,158.58 L257.4,158.61 L258.4,158.65 L259.4,158.69 L260.4,158.74 L261.4,158.78 L262.4,158.83 L263.4,158.88 L264.4,158.94 L265.4,158.99 L266.4,159.05 L267.4,159.12 L268.4,159.18 L269.4,159.25 L270.4,159.32 L271.4,159.39 L272.4,159.46 L273.4,159.54 L274.4,159.62 L275.4,159.70 L276.4,159.79 L277.4,159.88 L278.4,159.96 L279.4,160.06 L280.4,160.15 L281.4,160.25 L282.4,160.35 L283.4,160.45 L284.4,160.56 L285.4,160.66 L286.4,160.77 L287.4,160.88 L288.4,161.00 L289.4,161.11 L290.4,161.23 L291.4,161.35 L292.4,161.48 L293.4,161.60 L294.4,161.73 L295.4,161.86 L296.4,161.99 L297.4,162.13 L298.4,162.27 L299.4,162.41 L300.4,162.55 L301.4,162.69 L302.4,162.84 L303.4,162.99 L304.4,163.14 L305.4,163.30 L306.4,163.45 L307.4,163.61 L308.4,163.77 L309.4,163.93 L310.4,164.10 L311.4,164.27 L312.4,164.44 L313.4,164.61 L314.4,164.78 L315.4,164.96 L316.4,165.14 L317.4,165.32 L318.4,165.50 L319.4,165.69 L320.4,165.88 L321.4,166.07 L322.4,166.26 L323.4,166.45 L324.4,166.65 L325.4,166.85 L326.4,167.05 L327.4,167.26 L328.4,167.46 L329.4,167.67 L330.4,167.88 L331.4,168.09 L332.4,168.31 L333.4,168.53 L334.4,168.75 L335.4,168.97 L336.4,169.19 L337.4,169.42 L338.4,169.65 L339.4,169.88 L340.4,170.12 L341.4,170.35 L342.4,170.59 L343.4,170.83 L344.4,171.07 L345.4,171.32 L346.4,171.57 L347.4,171.82 L348.4,172.07 L349.4,172.33 L350.4,172.58 L351.4,172.84 L352.4,173.10 L353.4,173.37 L354.4,173.64 L355.4,173.91 L356.4,174.18 L357.4,174.45 L358.4,174.73 L359.4,175.01 L360.4,175.29 L361.4,175.57 L362.4,175.86 L363.4,176.15 L364.4,176.44 L365.4,176.74 L366.4,177.03 L367.4,177.33 L368.4,177.63 L369.4,177.94 L370.4,178.25 L371.4,178.56 L372.4,178.87 L373.4,179.18 L374.4,179.50 L375.4,179.82 L377.2,180.40" stroke="#222" stroke-width="1.2" stroke-dasharray="1.5 1.5"/><path d="M42.5,260.15 L43.5,258.87 L44.5,257.61 L45.5,256.35 L46.5,255.11 L47.5,253.88 L48.5,252.67 L49.5,251.46 L50.5,250.26 L51.5,249.08 L52.5,247.91 L53.5,246.75 L54.5,245.60 L55.5,244.46 L56.5,243.33 L57.5,242.21 L58.5,241.10 L59.5,240.01 L60.5,238.92 L61.5,237.85 L62.5,236.78 L63.5,235.73 L64.5,234.69 L65.5,233.66 L66.5,232.63 L67.5,231.62 L68.5,230.62 L69.5,229.63 L70.5,228.65 L71.5,227.67 L72.5,226.71 L73.5,225.76 L74.5,224.82 L75.5,223.89 L76.5,222.96 L77.5,222.05 L78.5,221.15 L79.5,220.25 L80.5,219.36 L81.5,218.48 L82.5,217.60 L83.5,216.74 L84.5,215.88 L85.5,215.03 L86.5,214.19 L87.5,213.36 L88.5,212.54 L89.5,211.73 L90.5,210.93 L91.5,210.14 L92.5,209.36 L93.5,208.59 L94.5,207.83 L95.5,207.08 L96.5,206.33 L97.5,205.60 L98.5,204.87 L99.5,204.15 L100.5,203.44 L101.5,202.74 L102.5,202.04 L103.5,201.35 L104.5,200.68 L105.5,200.01 L106.5,199.34 L107.5,198.69 L108.5,198.04 L109.5,197.40 L110.5,196.77 L111.5,196.15 L112.5,195.53 L113.5,194.92 L114.5,194.32 L115.5,193.73 L116.5,193.14 L117.5,192.56 L118.5,191.99 L119.5,191.43 L120.5,190.87 L121.5,190.32 L122.5,189.78 L123.5,189.24 L124.5,188.71 L125.5,188.20 L126.5,187.69 L127.5,187.19 L128.4,186.70 L129.4,186.22 L130.4,185.74 L131.4,185.27 L132.4,184.80 L133.4,184.34 L134.4,183.89 L135.4,183.45 L136.4,183.01 L137.4,182.57 L138.4,182.15 L139.4,181.73 L140.4,181.31 L141.4,180.91 L142.4,180.51 L143.4,180.11 L144.4,179.72 L145.4,179.34 L146.4,178.96 L147.4,178.59 L148.4,178.22 L149.4,177.86 L150.4,177.51 L151.4,177.16 L152.4,176.82 L153.4,176.48 L154.4,176.15 L155.4,175.83 L156.4,175.50 L157.4,175.19 L158.4,174.88 L159.4,174.58 L160.4,174.28 L161.4,173.99 L162.4,173.70 L163.4,173.41 L164.4,173.14 L165.4,172.86 L166.4,172.60 L167.4,172.34 L168.4,172.08 L169.4,171.83 L170.4,171.58 L171.4,171.34 L172.4,171.10 L173.4,170.87 L174.4,170.64 L175.4,170.42 L176.4,170.20 L177.4,169.99 L178.4,169.78 L179.4,169.57 L180.4,169.37 L181.4,169.18 L182.4,168.99 L183.4,168.80 L184.4,168.62 L185.4,168.45 L186.4,168.27 L187.4,168.10 L188.4,167.94 L189.4,167.78 L190.4,167.63 L191.4,167.48 L192.4,167.33 L193.4,167.19 L194.4,167.05 L195.4,166.91 L196.4,166.78 L197.4,166.66 L198.4,166.53 L199.4,166.42 L200.4,166.30 L201.4,166.18 L202.4,166.07 L203.4,165.96 L204.4,165.85 L205.4,165.75 L206.4,165.65 L207.4,165.55 L208.4,165.46 L209.4,165.37 L210.4,165.29 L211.4,165.21 L212.4,165.13 L213.4,165.06 L214.4,164.99 L215.4,164.92 L216.4,164.86 L217.4,164.80 L218.4,164.75 L219.4,164.69 L220.4,164.64 L221.4,164.60 L222.4,164.56 L223.4,164.52 L224.4,164.48 L225.4,164.45 L226.4,164.42 L227.4,164.40 L228.4,164.37 L229.4,164.35 L230.4,164.34 L231.4,164.33 L232.4,164.32 L233.4,164.31 L234.4,164.31 L235.4,164.31 L236.4,164.31 L237.4,164.31 L238.4,164.32 L239.4,164.33 L240.4,164.35 L241.4,164.37 L242.4,164.39 L243.4,164.41 L244.4,164.43 L245.4,164.46 L246.4,164.50 L247.4,164.53 L248.4,164.57 L249.4,164.61 L250.4,164.65 L251.4,164.70 L252.4,164.75 L253.4,164.80 L254.4,164.85 L255.4,164.91 L256.4,164.97 L257.4,165.03 L258.4,165.09 L259.4,165.16 L260.4,165.23 L261.4,165.30 L262.4,165.38 L263.4,165.46 L264.4,165.54 L265.4,165.62 L266.4,165.71 L267.4,165.79 L268.4,165.88 L269.4,165.98 L270.4,166.07 L271.4,166.17 L272.4,166.27 L273.4,166.38 L274.4,166.48 L275.4,166.59 L276.4,166.70 L277.4,166.81 L278.4,166.93 L279.4,167.04 L280.4,167.16 L281.4,167.29 L282.4,167.41 L283.4,167.54 L284.4,167.67 L285.4,167.80 L286.4,167.93 L287.4,168.07 L288.4,168.21 L289.4,168.35 L290.4,168.49 L291.4,168.64 L292.4,168.79 L293.4,168.94 L294.4,169.09 L295.4,169.24 L296.4,169.40 L297.4,169.56 L298.4,169.72 L299.4,169.89 L300.4,170.05 L301.4,170.22 L302.4,170.39 L303.4,170.56 L304.4,170.74 L305.4,170.92 L306.4,171.10 L307.4,171.28 L308.4,171.46 L309.4,171.65 L310.4,171.84 L311.4,172.03 L312.4,172.22 L313.4,172.42 L314.4,172.61 L315.4,172.81 L316.4,173.02 L317.4,173.22 L318.4,173.43 L319.4,173.63 L320.4,173.85 L321.4,174.06 L322.4,174.27 L323.4,174.49 L324.4,174.71 L325.4,174.93 L326.4,175.16 L327.4,175.38 L328.4,175.61 L329.4,175.84 L330.4,176.08 L331.4,176.31 L332.4,176.55 L333.4,176.79 L334.4,177.03 L335.4,177.28 L336.4,177.53 L337.4,177.77 L338.4,178.03 L339.4,178.28 L340.4,178.54 L341.4,178.80 L342.4,179.06 L343.4,179.32 L344.4,179.58 L345.4,179.85 L346.4,180.12 L347.4,180.40 L348.4,180.67 L349.4,180.95 L350.4,181.23 L351.4,181.51 L352.4,181.79 L353.4,182.08 L354.4,182.37 L355.4,182.66 L356.4,182.96 L357.4,183.25 L358.4,183.55 L359.4,183.85 L360.4,184.16 L361.4,184.46 L362.4,184.77 L363.4,185.09 L364.4,185.40 L365.4,185.72 L366.4,186.04 L367.4,186.36 L368.4,186.68 L369.4,187.01 L370.4,187.34 L371.4,187.67 L372.4,188.01 L373.4,188.35 L374.4,188.69 L375.4,189.03 L377.2,189.65" stroke="#222" stroke-width="1.2" stroke-dasharray="1.5 1.5"/><path d="M42.5,258.64 L43.5,257.34 L44.5,256.06 L45.5,254.80 L46.5,253.54 L47.5,252.29 L48.5,251.06 L49.5,249.84 L50.5,248.63 L51.5,247.42 L52.5,246.23 L53.5,245.06 L54.5,243.89 L55.5,242.73 L56.5,241.58 L57.5,240.45 L58.5,239.32 L59.5,238.21 L60.5,237.10 L61.5,236.01 L62.5,234.92 L63.5,233.85 L64.5,232.79 L65.5,231.73 L66.5,230.69 L67.5,229.66 L68.5,228.63 L69.5,227.62 L70.5,226.62 L71.5,225.62 L72.5,224.64 L73.5,223.66 L74.5,222.70 L75.5,221.74 L76.5,220.80 L77.5,219.86 L78.5,218.93 L79.5,218.01 L80.5,217.11 L81.5,216.22 L82.5,215.34 L83.5,214.47 L84.5,213.61 L85.5,212.75 L86.5,211.91 L87.5,211.07 L88.5,210.25 L89.5,209.43 L90.5,208.62 L91.5,207.82 L92.5,207.03 L93.5,206.24 L94.5,205.47 L95.5,204.70 L96.5,203.94 L97.5,203.19 L98.5,202.45 L99.5,201.71 L100.5,200.99 L101.5,200.27 L102.5,199.56 L103.5,198.86 L104.5,198.16 L105.5,197.48 L106.5,196.80 L107.5,196.13 L108.5,195.47 L109.5,194.81 L110.5,194.16 L111.5,193.52 L112.5,192.89 L113.5,192.27 L114.5,191.65 L115.5,191.04 L116.5,190.43 L117.5,189.84 L118.5,189.25 L119.5,188.67 L120.5,188.09 L121.5,187.53 L122.5,186.97 L123.5,186.41 L124.5,185.87 L125.5,185.32 L126.5,184.78 L127.5,184.24 L128.4,183.71 L129.4,183.19 L130.4,182.67 L131.4,182.16 L132.4,181.66 L133.4,181.17 L134.4,180.68 L135.4,180.19 L136.4,179.71 L137.4,179.24 L138.4,178.78 L139.4,178.32 L140.4,177.87 L141.4,177.42 L142.4,176.98 L143.4,176.55 L144.4,176.12 L145.4,175.70 L146.4,175.28 L147.4,174.87 L148.4,174.47 L149.4,174.07 L150.4,173.67 L151.4,173.29 L152.4,172.91 L153.4,172.53 L154.4,172.16 L155.4,171.79 L156.4,171.44 L157.4,171.08 L158.4,170.73 L159.4,170.39 L160.4,170.05 L161.4,169.72 L162.4,169.39 L163.4,169.07 L164.4,168.76 L165.4,168.44 L166.4,168.14 L167.4,167.84 L168.4,167.54 L169.4,167.25 L170.4,166.96 L171.4,166.68 L172.4,166.41 L173.4,166.13 L174.4,165.87 L175.4,165.61 L176.4,165.35 L177.4,165.10 L178.4,164.85 L179.4,164.61 L180.4,164.37 L181.4,164.13 L182.4,163.90 L183.4,163.68 L184.4,163.46 L185.4,163.24 L186.4,163.03 L187.4,162.83 L188.4,162.62 L189.4,162.43 L190.4,162.23 L191.4,162.04 L192.4,161.86 L193.4,161.68 L194.4,161.50 L195.4,161.33 L196.4,161.16 L197.4,160.99 L198.4,160.83 L199.4,160.68 L200.4,160.52 L201.4,160.37 L202.4,160.23 L203.4,160.09 L204.4,159.95 L205.4,159.82 L206.4,159.69 L207.4,159.57 L208.4,159.44 L209.4,159.33 L210.4,159.21 L211.4,159.10 L212.4,159.00 L213.4,158.89 L214.4,158.79 L215.4,158.70 L216.4,158.60 L217.4,158.52 L218.4,158.43 L219.4,158.35 L220.4,158.27 L221.4,158.20 L222.4,158.12 L223.4,158.06 L224.4,157.99 L225.4,157.93 L226.4,157.87 L227.4,157.82 L228.4,157.77 L229.4,157.72 L230.4,157.67 L231.4,157.63 L232.4,157.59 L233.4,157.56 L234.4,157.53 L235.4,157.50 L236.4,157.47 L237.4,157.45 L238.4,157.43 L239.4,157.41 L240.4,157.40 L241.4,157.39 L242.4,157.38 L243.4,157.38 L244.4,157.37 L245.4,157.38 L246.4,157.38 L247.4,157.39 L248.4,157.40 L249.4,157.41 L250.4,157.43 L251.4,157.44 L252.4,157.47 L253.4,157.49 L254.4,157.52 L255.4,157.55 L256.4,157.58 L257.4,157.61 L258.4,157.65 L259.4,157.69 L260.4,157.74 L261.4,157.78 L262.4,157.83 L263.4,157.88 L264.4,157.94 L265.4,157.99 L266.4,158.05 L267.4,158.12 L268.4,158.18 L269.4,158.25 L270.4,158.32 L271.4,158.39 L272.4,158.46 L273.4,158.54 L274.4,158.62 L275.4,158.70 L276.4,158.79 L277.4,158.88 L278.4,158.96 L279.4,159.06 L280.4,159.15 L281.4,159.25 L282.4,159.35 L283.4,159.45 L284.4,159.56 L285.4,159.66 L286.4,159.77 L287.4,159.88 L288.4,160.00 L289.4,160.11 L290.4,160.23 L291.4,160.35 L292.4,160.48 L293.4,160.60 L294.4,160.73 L295.4,160.86 L296.4,160.99 L297.4,161.13 L298.4,161.27 L299.4,161.41 L300.4,161.55 L301.4,161.69 L302.4,161.84 L303.4,161.99 L304.4,162.14 L305.4,162.30 L306.4,162.45 L307.4,162.61 L308.4,162.77 L309.4,162.93 L310.4,163.10 L311.4,163.27 L312.4,163.44 L313.4,163.61 L314.4,163.78 L315.4,163.96 L316.4,164.14 L317.4,164.32 L318.4,164.50 L319.4,164.69 L320.4,164.88 L321.4,165.07 L322.4,165.26 L323.4,165.45 L324.4,165.65 L325.4,165.85 L326.4,166.05 L327.4,166.26 L328.4,166.46 L329.4,166.67 L330.4,166.88 L331.4,167.09 L332.4,167.31 L333.4,167.53 L334.4,167.75 L335.4,167.97 L336.4,168.19 L337.4,168.42 L338.4,168.65 L339.4,168.88 L340.4,169.12 L341.4,169.35 L342.4,169.59 L343.4,169.83 L344.4,170.07 L345.4,170.32 L346.4,170.57 L347.4,170.82 L348.4,171.07 L349.4,171.33 L350.4,171.58 L351.4,171.84 L352.4,172.10 L353.4,172.37 L354.4,172.64 L355.4,172.91 L356.4,173.18 L357.4,173.45 L358.4,173.73 L359.4,174.01 L360.4,174.29 L361.4,174.57 L362.4,174.86 L363.4,175.15 L364.4,175.44 L365.4,175.74 L366.4,176.03 L367.4,176.33 L368.4,176.63 L369.4,176.94 L370.4,177.25 L371.4,177.56 L372.4,177.87 L373.4,178.18 L374.4,178.50 L375.4,178.82 L377.2,179.40" stroke="#2a9fd8" stroke-width="1.65"/><path d="M42.5,260.00 L43.5,258.72 L44.5,257.46 L45.5,256.20 L46.5,254.96 L47.5,253.73 L48.5,252.52 L49.5,251.31 L50.5,250.11 L51.5,248.93 L52.5,247.76 L53.5,246.60 L54.5,245.45 L55.5,244.31 L56.5,243.18 L57.5,242.06 L58.5,240.95 L59.5,239.86 L60.5,238.77 L61.5,237.70 L62.5,236.63 L63.5,235.58 L64.5,234.54 L65.5,233.51 L66.5,232.48 L67.5,231.47 L68.5,230.47 L69.5,229.48 L70.5,228.50 L71.5,227.52 L72.5,226.56 L73.5,225.61 L74.5,224.67 L75.5,223.74 L76.5,222.81 L77.5,221.90 L78.5,221.00 L79.5,220.10 L80.5,219.21 L81.5,218.33 L82.5,217.45 L83.5,216.59 L84.5,215.73 L85.5,214.88 L86.5,214.04 L87.5,213.21 L88.5,212.39 L89.5,211.58 L90.5,210.77 L91.5,209.98 L92.5,209.19 L93.5,208.41 L94.5,207.64 L95.5,206.88 L96.5,206.13 L97.5,205.39 L98.5,204.65 L99.5,203.93 L100.5,203.21 L101.5,202.50 L102.5,201.80 L103.5,201.10 L104.5,200.41 L105.5,199.74 L106.5,199.07 L107.5,198.40 L108.5,197.75 L109.5,197.10 L110.5,196.46 L111.5,195.83 L112.5,195.21 L113.5,194.59 L114.5,193.98 L115.5,193.38 L116.5,192.79 L117.5,192.20 L118.5,191.62 L119.5,191.05 L120.5,190.49 L121.5,189.93 L122.5,189.38 L123.5,188.83 L124.5,188.30 L125.5,187.77 L126.5,187.26 L127.5,186.75 L128.4,186.25 L129.4,185.76 L130.4,185.28 L131.4,184.80 L132.4,184.32 L133.4,183.86 L134.4,183.40 L135.4,182.95 L136.4,182.50 L137.4,182.06 L138.4,181.62 L139.4,181.20 L140.4,180.77 L141.4,180.36 L142.4,179.95 L143.4,179.55 L144.4,179.15 L145.4,178.76 L146.4,178.37 L147.4,178.00 L148.4,177.62 L149.4,177.25 L150.4,176.89 L151.4,176.54 L152.4,176.19 L153.4,175.84 L154.4,175.50 L155.4,175.17 L156.4,174.84 L157.4,174.52 L158.4,174.20 L159.4,173.89 L160.4,173.58 L161.4,173.28 L162.4,172.99 L163.4,172.70 L164.4,172.41 L165.4,172.13 L166.4,171.86 L167.4,171.59 L168.4,171.32 L169.4,171.06 L170.4,170.81 L171.4,170.56 L172.4,170.31 L173.4,170.07 L174.4,169.84 L175.4,169.61 L176.4,169.38 L177.4,169.16 L178.4,168.94 L179.4,168.73 L180.4,168.53 L181.4,168.32 L182.4,168.12 L183.4,167.93 L184.4,167.74 L185.4,167.56 L186.4,167.38 L187.4,167.20 L188.4,167.03 L189.4,166.86 L190.4,166.70 L191.4,166.54 L192.4,166.39 L193.4,166.24 L194.4,166.09 L195.4,165.95 L196.4,165.81 L197.4,165.68 L198.4,165.55 L199.4,165.42 L200.4,165.30 L201.4,165.18 L202.4,165.07 L203.4,164.96 L204.4,164.85 L205.4,164.75 L206.4,164.65 L207.4,164.55 L208.4,164.46 L209.4,164.37 L210.4,164.29 L211.4,164.21 L212.4,164.13 L213.4,164.06 L214.4,163.99 L215.4,163.92 L216.4,163.86 L217.4,163.80 L218.4,163.75 L219.4,163.69 L220.4,163.64 L221.4,163.60 L222.4,163.56 L223.4,163.52 L224.4,163.48 L225.4,163.45 L226.4,163.42 L227.4,163.40 L228.4,163.37 L229.4,163.35 L230.4,163.34 L231.4,163.33 L232.4,163.32 L233.4,163.31 L234.4,163.31 L235.4,163.31 L236.4,163.31 L237.4,163.31 L238.4,163.32 L239.4,163.33 L240.4,163.35 L241.4,163.37 L242.4,163.39 L243.4,163.41 L244.4,163.43 L245.4,163.46 L246.4,163.50 L247.4,163.53 L248.4,163.57 L249.4,163.61 L250.4,163.65 L251.4,163.70 L252.4,163.75 L253.4,163.80 L254.4,163.85 L255.4,163.91 L256.4,163.97 L257.4,164.03 L258.4,164.09 L259.4,164.16 L260.4,164.23 L261.4,164.30 L262.4,164.38 L263.4,164.46 L264.4,164.54 L265.4,164.62 L266.4,164.71 L267.4,164.79 L268.4,164.88 L269.4,164.98 L270.4,165.07 L271.4,165.17 L272.4,165.27 L273.4,165.38 L274.4,165.48 L275.4,165.59 L276.4,165.70 L277.4,165.81 L278.4,165.93 L279.4,166.04 L280.4,166.16 L281.4,166.29 L282.4,166.41 L283.4,166.54 L284.4,166.67 L285.4,166.80 L286.4,166.93 L287.4,167.07 L288.4,167.21 L289.4,167.35 L290.4,167.49 L291.4,167.64 L292.4,167.79 L293.4,167.94 L294.4,168.09 L295.4,168.24 L296.4,168.40 L297.4,168.56 L298.4,168.72 L299.4,168.89 L300.4,169.05 L301.4,169.22 L302.4,169.39 L303.4,169.56 L304.4,169.74 L305.4,169.92 L306.4,170.10 L307.4,170.28 L308.4,170.46 L309.4,170.65 L310.4,170.84 L311.4,171.03 L312.4,171.22 L313.4,171.42 L314.4,171.61 L315.4,171.81 L316.4,172.02 L317.4,172.22 L318.4,172.43 L319.4,172.63 L320.4,172.85 L321.4,173.06 L322.4,173.27 L323.4,173.49 L324.4,173.71 L325.4,173.93 L326.4,174.16 L327.4,174.38 L328.4,174.61 L329.4,174.84 L330.4,175.08 L331.4,175.31 L332.4,175.55 L333.4,175.79 L334.4,176.03 L335.4,176.28 L336.4,176.53 L337.4,176.77 L338.4,177.03 L339.4,177.28 L340.4,177.54 L341.4,177.80 L342.4,178.06 L343.4,178.32 L344.4,178.58 L345.4,178.85 L346.4,179.12 L347.4,179.40 L348.4,179.67 L349.4,179.95 L350.4,180.23 L351.4,180.51 L352.4,180.79 L353.4,181.08 L354.4,181.37 L355.4,181.66 L356.4,181.96 L357.4,182.25 L358.4,182.55 L359.4,182.85 L360.4,183.16 L361.4,183.46 L362.4,183.77 L363.4,184.09 L364.4,184.40 L365.4,184.72 L366.4,185.04 L367.4,185.36 L368.4,185.68 L369.4,186.01 L370.4,186.34 L371.4,186.67 L372.4,187.01 L373.4,187.35 L374.4,187.69 L375.4,188.03 L377.2,188.65" stroke="#2a9fd8" stroke-width="1.65"/><path d="M42.5,250.03 L43.5,248.50 L44.5,246.98 L45.5,245.47 L46.5,243.98 L47.5,242.49 L48.5,241.02 L49.5,239.55 L50.5,238.10 L51.5,236.66 L52.5,235.22 L53.5,233.80 L54.5,232.39 L55.5,230.99 L56.5,229.60 L57.5,228.22 L58.5,226.85 L59.5,225.49 L60.5,224.14 L61.5,222.80 L62.5,221.47 L63.5,220.15 L64.5,218.83 L65.5,217.53 L66.5,216.24 L67.5,214.96 L68.5,213.69 L69.5,212.42 L70.5,211.17 L71.5,209.93 L72.5,208.69 L73.5,207.46 L74.5,206.25 L75.5,205.04 L76.5,203.84 L77.5,202.65 L78.5,201.47 L79.5,200.30 L80.5,199.14 L81.5,197.99 L82.5,196.86 L83.5,195.73 L84.5,194.61 L85.5,193.50 L86.5,192.40 L87.5,191.30 L88.5,190.22 L89.5,189.14 L90.5,188.07 L91.5,187.01 L92.5,185.95 L93.5,184.91 L94.5,183.87 L95.5,182.84 L96.5,181.82 L97.5,180.80 L98.5,179.80 L99.5,178.80 L100.5,177.81 L101.5,176.83 L102.5,175.85 L103.5,174.88 L104.5,173.92 L105.5,172.97 L106.5,172.02 L107.5,171.08 L108.5,170.15 L109.5,169.22 L110.5,168.30 L111.5,167.39 L112.5,166.49 L113.5,165.59 L114.5,164.70 L115.5,163.82 L116.5,162.94 L117.5,162.07 L118.5,161.21 L119.5,160.35 L120.5,159.50 L121.5,158.66 L122.5,157.82 L123.5,156.99 L124.5,156.17 L125.5,155.34 L126.5,154.52 L127.5,153.71 L128.4,152.90 L129.4,152.09 L130.4,151.30 L131.4,150.51 L132.4,149.72 L133.4,148.94 L134.4,148.17 L135.4,147.40 L136.4,146.64 L137.4,145.89 L138.4,145.14 L139.4,144.39 L140.4,143.65 L141.4,142.92 L142.4,142.19 L143.4,141.47 L144.4,140.76 L145.4,140.05 L146.4,139.34 L147.4,138.64 L148.4,137.95 L149.4,137.26 L150.4,136.57 L151.4,135.89 L152.4,135.22 L153.4,134.55 L154.4,133.89 L155.4,133.23 L156.4,132.58 L157.4,131.93 L158.4,131.28 L159.4,130.65 L160.4,130.01 L161.4,129.38 L162.4,128.76 L163.4,128.14 L164.4,127.53 L165.4,126.92 L166.4,126.31 L167.4,125.71 L168.4,125.12 L169.4,124.52 L170.4,123.94 L171.4,123.36 L172.4,122.78 L173.4,122.20 L174.4,121.64 L175.4,121.07 L176.4,120.51 L177.4,119.95 L178.4,119.40 L179.4,118.86 L180.4,118.31 L181.4,117.77 L182.4,117.24 L183.4,116.71 L184.4,116.18 L185.4,115.66 L186.4,115.14 L187.4,114.63 L188.4,114.11 L189.4,113.61 L190.4,113.11 L191.4,112.61 L192.4,112.11 L193.4,111.62 L194.4,111.13 L195.4,110.65 L196.4,110.17 L197.4,109.69 L198.4,109.22 L199.4,108.75 L200.4,108.29 L201.4,107.83 L202.4,107.37 L203.4,106.91 L204.4,106.46 L205.4,106.02 L206.4,105.57 L207.4,105.13 L208.4,104.70 L209.4,104.26 L210.4,103.83 L211.4,103.41 L212.4,102.98 L213.4,102.57 L214.4,102.15 L215.4,101.74 L216.4,101.33 L217.4,100.92 L218.4,100.52 L219.4,100.12 L220.4,99.72 L221.4,99.33 L222.4,98.94 L223.4,98.55 L224.4,98.17 L225.4,97.79 L226.4,97.41 L227.4,97.03 L228.4,96.66 L229.4,96.29 L230.4,95.93 L231.4,95.57 L232.4,95.21 L233.4,94.85 L234.4,94.50 L235.4,94.15 L236.4,93.80 L237.4,93.46 L238.4,93.12 L239.4,92.78 L240.4,92.44 L241.4,92.11 L242.4,91.78 L243.4,91.45 L244.4,91.13 L245.4,90.81 L246.4,90.49 L247.4,90.17 L248.4,89.86 L249.4,89.55 L250.4,89.24 L251.4,88.94 L252.4,88.64 L253.4,88.34 L254.4,88.04 L255.4,87.75 L256.4,87.46 L257.4,87.17 L258.4,86.88 L259.4,86.60 L260.4,86.32 L261.4,86.04 L262.4,85.77 L263.4,85.50 L264.4,85.23 L265.4,84.96 L266.4,84.70 L267.4,84.44 L268.4,84.18 L269.4,83.92 L270.4,83.67 L271.4,83.42 L272.4,83.17 L273.4,82.92 L274.4,82.68 L275.4,82.44 L276.4,82.20 L277.4,81.96 L278.4,81.73 L279.4,81.50 L280.4,81.27 L281.4,81.05 L282.4,80.82 L283.4,80.60 L284.4,80.39 L285.4,80.17 L286.4,79.96 L287.4,79.75 L288.4,79.54 L289.4,79.34 L290.4,79.13 L291.4,78.93 L292.4,78.74 L293.4,78.54 L294.4,78.35 L295.4,78.16 L296.4,77.97 L297.4,77.79 L298.4,77.61 L299.4,77.43 L300.4,77.25 L301.4,77.07 L302.4,76.90 L303.4,76.73 L304.4,76.57 L305.4,76.40 L306.4,76.24 L307.4,76.08 L308.4,75.92 L309.4,75.77 L310.4,75.62 L311.4,75.47 L312.4,75.32 L313.4,75.18 L314.4,75.04 L315.4,74.90 L316.4,74.76 L317.4,74.63 L318.4,74.50 L319.4,74.37 L320.4,74.25 L321.4,74.12 L322.4,74.00 L323.4,73.88 L324.4,73.77 L325.4,73.66 L326.4,73.55 L327.4,73.44 L328.4,73.34 L329.4,73.23 L330.4,73.14 L331.4,73.04 L332.4,72.95 L333.4,72.86 L334.4,72.77 L335.4,72.68 L336.4,72.60 L337.4,72.52 L338.4,72.44 L339.4,72.37 L340.4,72.30 L341.4,72.23 L342.4,72.16 L343.4,72.10 L344.4,72.04 L345.4,71.98 L346.4,71.93 L347.4,71.88 L348.4,71.83 L349.4,71.79 L350.4,71.74 L351.4,71.70 L352.4,71.67 L353.4,71.63 L354.4,71.60 L355.4,71.58 L356.4,71.55 L357.4,71.53 L358.4,71.51 L359.4,71.50 L360.4,71.49 L361.4,71.48 L362.4,71.47 L363.4,71.47 L364.4,71.47 L365.4,71.47 L366.4,71.48 L367.4,71.49 L368.4,71.50 L369.4,71.52 L370.4,71.54 L371.4,71.56 L372.4,71.59 L373.4,71.62 L374.4,71.65 L375.4,71.69 L377.2,71.76 L377.2,79.62 L375.4,79.50 L374.4,79.44 L373.4,79.38 L372.4,79.33 L371.4,79.28 L370.4,79.24 L369.4,79.19 L368.4,79.16 L367.4,79.12 L366.4,79.09 L365.4,79.07 L364.4,79.04 L363.4,79.02 L362.4,79.01 L361.4,78.99 L360.4,78.99 L359.4,78.98 L358.4,78.98 L357.4,78.98 L356.4,78.99 L355.4,79.00 L354.4,79.01 L353.4,79.02 L352.4,79.04 L351.4,79.06 L350.4,79.09 L349.4,79.12 L348.4,79.15 L347.4,79.19 L346.4,79.22 L345.4,79.27 L344.4,79.31 L343.4,79.36 L342.4,79.41 L341.4,79.46 L340.4,79.52 L339.4,79.58 L338.4,79.64 L337.4,79.71 L336.4,79.78 L335.4,79.85 L334.4,79.93 L333.4,80.00 L332.4,80.08 L331.4,80.17 L330.4,80.26 L329.4,80.34 L328.4,80.44 L327.4,80.53 L326.4,80.63 L325.4,80.73 L324.4,80.83 L323.4,80.94 L322.4,81.05 L321.4,81.16 L320.4,81.28 L319.4,81.39 L318.4,81.51 L317.4,81.64 L316.4,81.76 L315.4,81.89 L314.4,82.02 L313.4,82.15 L312.4,82.29 L311.4,82.43 L310.4,82.57 L309.4,82.71 L308.4,82.86 L307.4,83.00 L306.4,83.16 L305.4,83.31 L304.4,83.46 L303.4,83.62 L302.4,83.78 L301.4,83.95 L300.4,84.11 L299.4,84.28 L298.4,84.45 L297.4,84.63 L296.4,84.80 L295.4,84.98 L294.4,85.16 L293.4,85.35 L292.4,85.53 L291.4,85.72 L290.4,85.91 L289.4,86.10 L288.4,86.30 L287.4,86.50 L286.4,86.70 L285.4,86.90 L284.4,87.10 L283.4,87.31 L282.4,87.52 L281.4,87.73 L280.4,87.95 L279.4,88.16 L278.4,88.38 L277.4,88.61 L276.4,88.83 L275.4,89.06 L274.4,89.28 L273.4,89.52 L272.4,89.75 L271.4,89.99 L270.4,90.22 L269.4,90.47 L268.4,90.71 L267.4,90.95 L266.4,91.20 L265.4,91.45 L264.4,91.71 L263.4,91.96 L262.4,92.22 L261.4,92.48 L260.4,92.74 L259.4,93.01 L258.4,93.28 L257.4,93.55 L256.4,93.82 L255.4,94.09 L254.4,94.37 L253.4,94.65 L252.4,94.93 L251.4,95.22 L250.4,95.51 L249.4,95.80 L248.4,96.09 L247.4,96.38 L246.4,96.68 L245.4,96.98 L244.4,97.28 L243.4,97.59 L242.4,97.90 L241.4,98.21 L240.4,98.52 L239.4,98.84 L238.4,99.16 L237.4,99.48 L236.4,99.80 L235.4,100.13 L234.4,100.46 L233.4,100.79 L232.4,101.12 L231.4,101.46 L230.4,101.80 L229.4,102.15 L228.4,102.49 L227.4,102.84 L226.4,103.19 L225.4,103.55 L224.4,103.90 L223.4,104.26 L222.4,104.63 L221.4,104.99 L220.4,105.36 L219.4,105.73 L218.4,106.11 L217.4,106.49 L216.4,106.87 L215.4,107.25 L214.4,107.64 L213.4,108.03 L212.4,108.42 L211.4,108.82 L210.4,109.22 L209.4,109.62 L208.4,110.03 L207.4,110.44 L206.4,110.85 L205.4,111.26 L204.4,111.68 L203.4,112.10 L202.4,112.53 L201.4,112.96 L200.4,113.39 L199.4,113.83 L198.4,114.27 L197.4,114.71 L196.4,115.16 L195.4,115.61 L194.4,116.06 L193.4,116.52 L192.4,116.98 L191.4,117.44 L190.4,117.91 L189.4,118.38 L188.4,118.85 L187.4,119.33 L186.4,119.82 L185.4,120.30 L184.4,120.79 L183.4,121.29 L182.4,121.79 L181.4,122.29 L180.4,122.80 L179.4,123.31 L178.4,123.82 L177.4,124.34 L176.4,124.86 L175.4,125.39 L174.4,125.92 L173.4,126.45 L172.4,126.99 L171.4,127.54 L170.4,128.08 L169.4,128.64 L168.4,129.19 L167.4,129.75 L166.4,130.32 L165.4,130.89 L164.4,131.47 L163.4,132.05 L162.4,132.63 L161.4,133.22 L160.4,133.81 L159.4,134.41 L158.4,135.01 L157.4,135.62 L156.4,136.23 L155.4,136.85 L154.4,137.47 L153.4,138.10 L152.4,138.73 L151.4,139.37 L150.4,140.01 L149.4,140.66 L148.4,141.31 L147.4,141.97 L146.4,142.64 L145.4,143.31 L144.4,143.98 L143.4,144.66 L142.4,145.35 L141.4,146.04 L140.4,146.73 L139.4,147.43 L138.4,148.14 L137.4,148.86 L136.4,149.58 L135.4,150.30 L134.4,151.03 L133.4,151.77 L132.4,152.51 L131.4,153.26 L130.4,154.01 L129.4,154.78 L128.4,155.54 L127.5,156.32 L126.5,157.10 L125.5,157.88 L124.5,158.68 L123.5,159.49 L122.5,160.30 L121.5,161.13 L120.5,161.95 L119.5,162.79 L118.5,163.63 L117.5,164.48 L116.5,165.33 L115.5,166.20 L114.5,167.06 L113.5,167.94 L112.5,168.82 L111.5,169.71 L110.5,170.61 L109.5,171.51 L108.5,172.43 L107.5,173.34 L106.5,174.27 L105.5,175.20 L104.5,176.15 L103.5,177.09 L102.5,178.05 L101.5,179.01 L100.5,179.99 L99.5,180.96 L98.5,181.95 L97.5,182.95 L96.5,183.95 L95.5,184.96 L94.5,185.98 L93.5,187.01 L92.5,188.04 L91.5,189.09 L90.5,190.14 L89.5,191.20 L88.5,192.27 L87.5,193.35 L86.5,194.43 L85.5,195.53 L84.5,196.63 L83.5,197.74 L82.5,198.86 L81.5,199.99 L80.5,201.13 L79.5,202.27 L78.5,203.42 L77.5,204.58 L76.5,205.74 L75.5,206.92 L74.5,208.10 L73.5,209.30 L72.5,210.50 L71.5,211.71 L70.5,212.93 L69.5,214.17 L68.5,215.41 L67.5,216.66 L66.5,217.92 L65.5,219.19 L64.5,220.48 L63.5,221.77 L62.5,223.07 L61.5,224.38 L60.5,225.71 L59.5,227.04 L58.5,228.38 L57.5,229.74 L56.5,231.10 L55.5,232.48 L54.5,233.87 L53.5,235.27 L52.5,236.68 L51.5,238.10 L50.5,239.53 L49.5,240.97 L48.5,242.42 L47.5,243.89 L46.5,245.37 L45.5,246.85 L44.5,248.35 L43.5,249.86 L42.5,251.39Z" fill="#dcedc8"/><path d="M42.5,250.03 L43.5,248.50 L44.5,246.98 L45.5,245.47 L46.5,243.98 L47.5,242.49 L48.5,241.02 L49.5,239.55 L50.5,238.10 L51.5,236.66 L52.5,235.22 L53.5,233.80 L54.5,232.39 L55.5,230.99 L56.5,229.60 L57.5,228.22 L58.5,226.85 L59.5,225.49 L60.5,224.14 L61.5,222.80 L62.5,221.47 L63.5,220.15 L64.5,218.83 L65.5,217.53 L66.5,216.24 L67.5,214.96 L68.5,213.69 L69.5,212.42 L70.5,211.17 L71.5,209.93 L72.5,208.69 L73.5,207.46 L74.5,206.25 L75.5,205.04 L76.5,203.84 L77.5,202.65 L78.5,201.47 L79.5,200.30 L80.5,199.14 L81.5,197.99 L82.5,196.86 L83.5,195.73 L84.5,194.61 L85.5,193.50 L86.5,192.40 L87.5,191.30 L88.5,190.22 L89.5,189.14 L90.5,188.07 L91.5,187.01 L92.5,185.95 L93.5,184.91 L94.5,183.87 L95.5,182.84 L96.5,181.82 L97.5,180.80 L98.5,179.80 L99.5,178.80 L100.5,177.81 L101.5,176.83 L102.5,175.85 L103.5,174.88 L104.5,173.92 L105.5,172.97 L106.5,172.02 L107.5,171.08 L108.5,170.15 L109.5,169.22 L110.5,168.30 L111.5,167.39 L112.5,166.49 L113.5,165.59 L114.5,164.70 L115.5,163.82 L116.5,162.94 L117.5,162.07 L118.5,161.21 L119.5,160.35 L120.5,159.50 L121.5,158.66 L122.5,157.82 L123.5,156.99 L124.5,156.17 L125.5,155.34 L126.5,154.52 L127.5,153.71 L128.4,152.90 L129.4,152.09 L130.4,151.30 L131.4,150.51 L132.4,149.72 L133.4,148.94 L134.4,148.17 L135.4,147.40 L136.4,146.64 L137.4,145.89 L138.4,145.14 L139.4,144.39 L140.4,143.65 L141.4,142.92 L142.4,142.19 L143.4,141.47 L144.4,140.76 L145.4,140.05 L146.4,139.34 L147.4,138.64 L148.4,137.95 L149.4,137.26 L150.4,136.57 L151.4,135.89 L152.4,135.22 L153.4,134.55 L154.4,133.89 L155.4,133.23 L156.4,132.58 L157.4,131.93 L158.4,131.28 L159.4,130.65 L160.4,130.01 L161.4,129.38 L162.4,128.76 L163.4,128.14 L164.4,127.53 L165.4,126.92 L166.4,126.31 L167.4,125.71 L168.4,125.12 L169.4,124.52 L170.4,123.94 L171.4,123.36 L172.4,122.78 L173.4,122.20 L174.4,121.64 L175.4,121.07 L176.4,120.51 L177.4,119.95 L178.4,119.40 L179.4,118.86 L180.4,118.31 L181.4,117.77 L182.4,117.24 L183.4,116.71 L184.4,116.18 L185.4,115.66 L186.4,115.14 L187.4,114.63 L188.4,114.11 L189.4,113.61 L190.4,113.11 L191.4,112.61 L192.4,112.11 L193.4,111.62 L194.4,111.13 L195.4,110.65 L196.4,110.17 L197.4,109.69 L198.4,109.22 L199.4,108.75 L200.4,108.29 L201.4,107.83 L202.4,107.37 L203.4,106.91 L204.4,106.46 L205.4,106.02 L206.4,105.57 L207.4,105.13 L208.4,104.70 L209.4,104.26 L210.4,103.83 L211.4,103.41 L212.4,102.98 L213.4,102.57 L214.4,102.15 L215.4,101.74 L216.4,101.33 L217.4,100.92 L218.4,100.52 L219.4,100.12 L220.4,99.72 L221.4,99.33 L222.4,98.94 L223.4,98.55 L224.4,98.17 L225.4,97.79 L226.4,97.41 L227.4,97.03 L228.4,96.66 L229.4,96.29 L230.4,95.93 L231.4,95.57 L232.4,95.21 L233.4,94.85 L234.4,94.50 L235.4,94.15 L236.4,93.80 L237.4,93.46 L238.4,93.12 L239.4,92.78 L240.4,92.44 L241.4,92.11 L242.4,91.78 L243.4,91.45 L244.4,91.13 L245.4,90.81 L246.4,90.49 L247.4,90.17 L248.4,89.86 L249.4,89.55 L250.4,89.24 L251.4,88.94 L252.4,88.64 L253.4,88.34 L254.4,88.04 L255.4,87.75 L256.4,87.46 L257.4,87.17 L258.4,86.88 L259.4,86.60 L260.4,86.32 L261.4,86.04 L262.4,85.77 L263.4,85.50 L264.4,85.23 L265.4,84.96 L266.4,84.70 L267.4,84.44 L268.4,84.18 L269.4,83.92 L270.4,83.67 L271.4,83.42 L272.4,83.17 L273.4,82.92 L274.4,82.68 L275.4,82.44 L276.4,82.20 L277.4,81.96 L278.4,81.73 L279.4,81.50 L280.4,81.27 L281.4,81.05 L282.4,80.82 L283.4,80.60 L284.4,80.39 L285.4,80.17 L286.4,79.96 L287.4,79.75 L288.4,79.54 L289.4,79.34 L290.4,79.13 L291.4,78.93 L292.4,78.74 L293.4,78.54 L294.4,78.35 L295.4,78.16 L296.4,77.97 L297.4,77.79 L298.4,77.61 L299.4,77.43 L300.4,77.25 L301.4,77.07 L302.4,76.90 L303.4,76.73 L304.4,76.57 L305.4,76.40 L306.4,76.24 L307.4,76.08 L308.4,75.92 L309.4,75.77 L310.4,75.62 L311.4,75.47 L312.4,75.32 L313.4,75.18 L314.4,75.04 L315.4,74.90 L316.4,74.76 L317.4,74.63 L318.4,74.50 L319.4,74.37 L320.4,74.25 L321.4,74.12 L322.4,74.00 L323.4,73.88 L324.4,73.77 L325.4,73.66 L326.4,73.55 L327.4,73.44 L328.4,73.34 L329.4,73.23 L330.4,73.14 L331.4,73.04 L332.4,72.95 L333.4,72.86 L334.4,72.77 L335.4,72.68 L336.4,72.60 L337.4,72.52 L338.4,72.44 L339.4,72.37 L340.4,72.30 L341.4,72.23 L342.4,72.16 L343.4,72.10 L344.4,72.04 L345.4,71.98 L346.4,71.93 L347.4,71.88 L348.4,71.83 L349.4,71.79 L350.4,71.74 L351.4,71.70 L352.4,71.67 L353.4,71.63 L354.4,71.60 L355.4,71.58 L356.4,71.55 L357.4,71.53 L358.4,71.51 L359.4,71.50 L360.4,71.49 L361.4,71.48 L362.4,71.47 L363.4,71.47 L364.4,71.47 L365.4,71.47 L366.4,71.48 L367.4,71.49 L368.4,71.50 L369.4,71.52 L370.4,71.54 L371.4,71.56 L372.4,71.59 L373.4,71.62 L374.4,71.65 L375.4,71.69 L377.2,71.76" stroke="#76b82a" stroke-width="1.65"/><path d="M42.5,251.39 L43.5,249.86 L44.5,248.35 L45.5,246.85 L46.5,245.37 L47.5,243.89 L48.5,242.42 L49.5,240.97 L50.5,239.53 L51.5,238.10 L52.5,236.68 L53.5,235.27 L54.5,233.87 L55.5,232.48 L56.5,231.10 L57.5,229.74 L58.5,228.38 L59.5,227.04 L60.5,225.71 L61.5,224.38 L62.5,223.07 L63.5,221.77 L64.5,220.48 L65.5,219.19 L66.5,217.92 L67.5,216.66 L68.5,215.41 L69.5,214.17 L70.5,212.93 L71.5,211.71 L72.5,210.50 L73.5,209.30 L74.5,208.10 L75.5,206.92 L76.5,205.74 L77.5,204.58 L78.5,203.42 L79.5,202.27 L80.5,201.13 L81.5,199.99 L82.5,198.86 L83.5,197.74 L84.5,196.63 L85.5,195.53 L86.5,194.43 L87.5,193.35 L88.5,192.27 L89.5,191.20 L90.5,190.14 L91.5,189.09 L92.5,188.04 L93.5,187.01 L94.5,185.98 L95.5,184.96 L96.5,183.95 L97.5,182.95 L98.5,181.95 L99.5,180.96 L100.5,179.99 L101.5,179.01 L102.5,178.05 L103.5,177.09 L104.5,176.15 L105.5,175.20 L106.5,174.27 L107.5,173.34 L108.5,172.43 L109.5,171.51 L110.5,170.61 L111.5,169.71 L112.5,168.82 L113.5,167.94 L114.5,167.06 L115.5,166.20 L116.5,165.33 L117.5,164.48 L118.5,163.63 L119.5,162.79 L120.5,161.95 L121.5,161.13 L122.5,160.30 L123.5,159.49 L124.5,158.68 L125.5,157.88 L126.5,157.10 L127.5,156.32 L128.4,155.54 L129.4,154.78 L130.4,154.01 L131.4,153.26 L132.4,152.51 L133.4,151.77 L134.4,151.03 L135.4,150.30 L136.4,149.58 L137.4,148.86 L138.4,148.14 L139.4,147.43 L140.4,146.73 L141.4,146.04 L142.4,145.35 L143.4,144.66 L144.4,143.98 L145.4,143.31 L146.4,142.64 L147.4,141.97 L148.4,141.31 L149.4,140.66 L150.4,140.01 L151.4,139.37 L152.4,138.73 L153.4,138.10 L154.4,137.47 L155.4,136.85 L156.4,136.23 L157.4,135.62 L158.4,135.01 L159.4,134.41 L160.4,133.81 L161.4,133.22 L162.4,132.63 L163.4,132.05 L164.4,131.47 L165.4,130.89 L166.4,130.32 L167.4,129.75 L168.4,129.19 L169.4,128.64 L170.4,128.08 L171.4,127.54 L172.4,126.99 L173.4,126.45 L174.4,125.92 L175.4,125.39 L176.4,124.86 L177.4,124.34 L178.4,123.82 L179.4,123.31 L180.4,122.80 L181.4,122.29 L182.4,121.79 L183.4,121.29 L184.4,120.79 L185.4,120.30 L186.4,119.82 L187.4,119.33 L188.4,118.85 L189.4,118.38 L190.4,117.91 L191.4,117.44 L192.4,116.98 L193.4,116.52 L194.4,116.06 L195.4,115.61 L196.4,115.16 L197.4,114.71 L198.4,114.27 L199.4,113.83 L200.4,113.39 L201.4,112.96 L202.4,112.53 L203.4,112.10 L204.4,111.68 L205.4,111.26 L206.4,110.85 L207.4,110.44 L208.4,110.03 L209.4,109.62 L210.4,109.22 L211.4,108.82 L212.4,108.42 L213.4,108.03 L214.4,107.64 L215.4,107.25 L216.4,106.87 L217.4,106.49 L218.4,106.11 L219.4,105.73 L220.4,105.36 L221.4,104.99 L222.4,104.63 L223.4,104.26 L224.4,103.90 L225.4,103.55 L226.4,103.19 L227.4,102.84 L228.4,102.49 L229.4,102.15 L230.4,101.80 L231.4,101.46 L232.4,101.12 L233.4,100.79 L234.4,100.46 L235.4,100.13 L236.4,99.80 L237.4,99.48 L238.4,99.16 L239.4,98.84 L240.4,98.52 L241.4,98.21 L242.4,97.90 L243.4,97.59 L244.4,97.28 L245.4,96.98 L246.4,96.68 L247.4,96.38 L248.4,96.09 L249.4,95.80 L250.4,95.51 L251.4,95.22 L252.4,94.93 L253.4,94.65 L254.4,94.37 L255.4,94.09 L256.4,93.82 L257.4,93.55 L258.4,93.28 L259.4,93.01 L260.4,92.74 L261.4,92.48 L262.4,92.22 L263.4,91.96 L264.4,91.71 L265.4,91.45 L266.4,91.20 L267.4,90.95 L268.4,90.71 L269.4,90.47 L270.4,90.22 L271.4,89.99 L272.4,89.75 L273.4,89.52 L274.4,89.28 L275.4,89.06 L276.4,88.83 L277.4,88.61 L278.4,88.38 L279.4,88.16 L280.4,87.95 L281.4,87.73 L282.4,87.52 L283.4,87.31 L284.4,87.10 L285.4,86.90 L286.4,86.70 L287.4,86.50 L288.4,86.30 L289.4,86.10 L290.4,85.91 L291.4,85.72 L292.4,85.53 L293.4,85.35 L294.4,85.16 L295.4,84.98 L296.4,84.80 L297.4,84.63 L298.4,84.45 L299.4,84.28 L300.4,84.11 L301.4,83.95 L302.4,83.78 L303.4,83.62 L304.4,83.46 L305.4,83.31 L306.4,83.16 L307.4,83.00 L308.4,82.86 L309.4,82.71 L310.4,82.57 L311.4,82.43 L312.4,82.29 L313.4,82.15 L314.4,82.02 L315.4,81.89 L316.4,81.76 L317.4,81.64 L318.4,81.51 L319.4,81.39 L320.4,81.28 L321.4,81.16 L322.4,81.05 L323.4,80.94 L324.4,80.83 L325.4,80.73 L326.4,80.63 L327.4,80.53 L328.4,80.44 L329.4,80.34 L330.4,80.26 L331.4,80.17 L332.4,80.08 L333.4,80.00 L334.4,79.93 L335.4,79.85 L336.4,79.78 L337.4,79.71 L338.4,79.64 L339.4,79.58 L340.4,79.52 L341.4,79.46 L342.4,79.41 L343.4,79.36 L344.4,79.31 L345.4,79.27 L346.4,79.22 L347.4,79.19 L348.4,79.15 L349.4,79.12 L350.4,79.09 L351.4,79.06 L352.4,79.04 L353.4,79.02 L354.4,79.01 L355.4,79.00 L356.4,78.99 L357.4,78.98 L358.4,78.98 L359.4,78.98 L360.4,78.99 L361.4,78.99 L362.4,79.01 L363.4,79.02 L364.4,79.04 L365.4,79.07 L366.4,79.09 L367.4,79.12 L368.4,79.16 L369.4,79.19 L370.4,79.24 L371.4,79.28 L372.4,79.33 L373.4,79.38 L374.4,79.44 L375.4,79.50 L377.2,79.62" stroke="#76b82a" stroke-width="1.65"/><path d="M42.5,244.33 L43.5,242.68 L44.5,241.03 L45.5,239.40 L46.5,237.78 L47.5,236.17 L48.5,234.58 L49.5,232.99 L50.5,231.41 L51.5,229.85 L52.5,228.29 L53.5,226.75 L54.5,225.21 L55.5,223.69 L56.5,222.18 L57.5,220.67 L58.5,219.18 L59.5,217.70 L60.5,216.22 L61.5,214.76 L62.5,213.31 L63.5,211.86 L64.5,210.43 L65.5,209.01 L66.5,207.59 L67.5,206.19 L68.5,204.79 L69.5,203.40 L70.5,202.03 L71.5,200.66 L72.5,199.30 L73.5,197.95 L74.5,196.61 L75.5,195.28 L76.5,193.95 L77.5,192.64 L78.5,191.33 L79.5,190.03 L80.5,188.75 L81.5,187.48 L82.5,186.22 L83.5,184.96 L84.5,183.72 L85.5,182.48 L86.5,181.25 L87.5,180.03 L88.5,178.82 L89.5,177.61 L90.5,176.42 L91.5,175.23 L92.5,174.04 L93.5,172.87 L94.5,171.70 L95.5,170.55 L96.5,169.39 L97.5,168.25 L98.5,167.11 L99.5,165.99 L100.5,164.86 L101.5,163.75 L102.5,162.64 L103.5,161.54 L104.5,160.45 L105.5,159.36 L106.5,158.28 L107.5,157.21 L108.5,156.14 L109.5,155.08 L110.5,154.03 L111.5,152.99 L112.5,151.95 L113.5,150.92 L114.5,149.89 L115.5,148.87 L116.5,147.86 L117.5,146.85 L118.5,145.85 L119.5,144.85 L120.5,143.87 L121.5,142.88 L122.5,141.91 L123.5,140.94 L124.5,139.97 L125.5,139.01 L126.5,138.05 L127.5,137.09 L128.4,136.14 L129.4,135.20 L130.4,134.26 L131.4,133.32 L132.4,132.40 L133.4,131.47 L134.4,130.56 L135.4,129.64 L136.4,128.74 L137.4,127.84 L138.4,126.94 L139.4,126.05 L140.4,125.17 L141.4,124.29 L142.4,123.41 L143.4,122.54 L144.4,121.68 L145.4,120.82 L146.4,119.97 L147.4,119.12 L148.4,118.27 L149.4,117.43 L150.4,116.60 L151.4,115.77 L152.4,114.95 L153.4,114.13 L154.4,113.31 L155.4,112.50 L156.4,111.69 L157.4,110.89 L158.4,110.09 L159.4,109.30 L160.4,108.51 L161.4,107.73 L162.4,106.95 L163.4,106.18 L164.4,105.41 L165.4,104.64 L166.4,103.88 L167.4,103.12 L168.4,102.37 L169.4,101.62 L170.4,100.88 L171.4,100.14 L172.4,99.40 L173.4,98.67 L174.4,97.94 L175.4,97.22 L176.4,96.50 L177.4,95.78 L178.4,95.07 L179.4,94.36 L180.4,93.66 L181.4,92.96 L182.4,92.26 L183.4,91.57 L184.4,90.88 L185.4,90.19 L186.4,89.51 L187.4,88.84 L188.4,88.16 L189.4,87.49 L190.4,86.83 L191.4,86.17 L192.4,85.51 L193.4,84.85 L194.4,84.20 L195.4,83.55 L196.4,82.91 L197.4,82.27 L198.4,81.63 L199.4,81.00 L200.4,80.37 L201.4,79.75 L202.4,79.12 L203.4,78.50 L204.4,77.89 L205.4,77.28 L206.4,76.67 L207.4,76.06 L208.4,75.46 L209.4,74.86 L210.4,74.27 L211.4,73.68 L212.4,73.09 L213.4,72.50 L214.4,71.92 L215.4,71.34 L216.4,70.77 L217.4,70.20 L218.4,69.63 L219.4,69.07 L220.4,68.51 L221.4,67.95 L222.4,67.39 L223.4,66.84 L224.4,66.29 L225.4,65.75 L226.4,65.21 L227.4,64.67 L228.4,64.13 L229.4,63.60 L230.4,63.07 L231.4,62.55 L232.4,62.03 L233.4,61.51 L234.4,60.99 L235.4,60.48 L236.4,59.97 L237.4,59.46 L238.4,58.96 L239.4,58.46 L240.4,57.96 L241.4,57.47 L242.4,56.98 L243.4,56.49 L244.4,56.00 L245.4,55.52 L246.4,55.04 L247.4,54.57 L248.4,54.10 L249.4,53.63 L250.4,53.16 L251.4,52.70 L252.4,52.23 L253.4,51.78 L254.4,51.32 L255.4,50.87 L256.4,50.42 L257.4,49.98 L258.4,49.53 L259.4,49.09 L260.4,48.66 L261.4,48.22 L262.4,47.79 L263.4,47.36 L264.4,46.93 L265.4,46.51 L266.4,46.09 L267.4,45.67 L268.4,45.26 L269.4,44.85 L270.4,44.44 L271.4,44.03 L272.4,43.63 L273.4,43.23 L274.4,42.83 L275.4,42.44 L276.4,42.05 L277.4,41.66 L278.4,41.27 L279.4,40.89 L280.4,40.50 L281.4,40.13 L282.4,39.75 L283.4,39.38 L284.4,39.01 L285.4,38.64 L286.4,38.27 L287.4,37.91 L288.4,37.55 L289.4,37.19 L290.4,36.84 L291.4,36.48 L292.4,36.13 L293.4,35.79 L294.4,35.44 L295.4,35.10 L296.4,34.76 L297.4,34.42 L298.4,34.09 L299.4,33.76 L300.4,33.43 L301.4,33.10 L302.4,32.78 L303.4,32.45 L304.4,32.13 L305.4,31.82 L306.4,31.50 L307.4,31.19 L308.4,30.88 L309.4,30.57 L310.4,30.27 L311.4,29.97 L312.4,29.67 L313.4,29.37 L314.4,29.07 L315.4,28.78 L316.4,28.49 L317.4,28.20 L318.4,27.91 L319.4,27.63 L320.4,27.35 L321.4,27.07 L322.4,26.79 L323.4,26.52 L324.4,26.25 L325.4,25.98 L326.4,25.71 L327.4,25.44 L328.4,25.18 L329.4,24.92 L330.4,24.66 L331.4,24.40 L332.4,24.15 L333.4,23.89 L334.4,23.64 L335.4,23.40 L336.4,23.15 L337.4,22.91 L338.4,22.67 L339.4,22.43 L340.4,22.19 L341.4,21.95 L342.4,21.72 L343.4,21.49 L344.4,21.26 L345.4,21.03 L346.4,20.81 L347.4,20.59 L348.4,20.37 L349.4,20.15 L350.4,19.93 L351.4,19.72 L352.4,19.50 L353.4,19.29 L354.4,19.09 L355.4,18.88 L356.4,18.67 L357.4,18.47 L358.4,18.27 L359.4,18.07 L360.4,17.88 L361.4,17.68 L362.4,17.49 L363.4,17.30 L364.4,17.11 L365.4,16.92 L366.4,16.74 L367.4,16.55 L368.4,16.37 L369.4,16.19 L370.4,16.01 L371.4,15.84 L372.4,15.66 L373.4,15.49 L374.4,15.32 L375.4,15.15 L377.2,14.85 L377.2,22.96 L375.4,23.23 L374.4,23.38 L373.4,23.53 L372.4,23.68 L371.4,23.84 L370.4,23.99 L369.4,24.15 L368.4,24.31 L367.4,24.47 L366.4,24.64 L365.4,24.80 L364.4,24.97 L363.4,25.14 L362.4,25.31 L361.4,25.48 L360.4,25.66 L359.4,25.83 L358.4,26.01 L357.4,26.19 L356.4,26.37 L355.4,26.56 L354.4,26.75 L353.4,26.93 L352.4,27.12 L351.4,27.32 L350.4,27.51 L349.4,27.71 L348.4,27.91 L347.4,28.11 L346.4,28.31 L345.4,28.51 L344.4,28.72 L343.4,28.93 L342.4,29.14 L341.4,29.35 L340.4,29.57 L339.4,29.79 L338.4,30.01 L337.4,30.23 L336.4,30.45 L335.4,30.68 L334.4,30.91 L333.4,31.14 L332.4,31.37 L331.4,31.61 L330.4,31.85 L329.4,32.09 L328.4,32.33 L327.4,32.57 L326.4,32.82 L325.4,33.07 L324.4,33.32 L323.4,33.58 L322.4,33.83 L321.4,34.09 L320.4,34.36 L319.4,34.62 L318.4,34.89 L317.4,35.15 L316.4,35.43 L315.4,35.70 L314.4,35.98 L313.4,36.25 L312.4,36.54 L311.4,36.82 L310.4,37.11 L309.4,37.40 L308.4,37.69 L307.4,37.98 L306.4,38.28 L305.4,38.58 L304.4,38.88 L303.4,39.18 L302.4,39.49 L301.4,39.80 L300.4,40.11 L299.4,40.43 L298.4,40.74 L297.4,41.06 L296.4,41.39 L295.4,41.71 L294.4,42.04 L293.4,42.37 L292.4,42.70 L291.4,43.04 L290.4,43.38 L289.4,43.72 L288.4,44.07 L287.4,44.41 L286.4,44.76 L285.4,45.12 L284.4,45.47 L283.4,45.83 L282.4,46.19 L281.4,46.55 L280.4,46.92 L279.4,47.29 L278.4,47.66 L277.4,48.04 L276.4,48.41 L275.4,48.80 L274.4,49.18 L273.4,49.57 L272.4,49.95 L271.4,50.35 L270.4,50.74 L269.4,51.14 L268.4,51.54 L267.4,51.94 L266.4,52.35 L265.4,52.76 L264.4,53.17 L263.4,53.59 L262.4,54.01 L261.4,54.43 L260.4,54.85 L259.4,55.28 L258.4,55.71 L257.4,56.14 L256.4,56.58 L255.4,57.02 L254.4,57.46 L253.4,57.90 L252.4,58.35 L251.4,58.80 L250.4,59.26 L249.4,59.71 L248.4,60.17 L247.4,60.63 L246.4,61.10 L245.4,61.57 L244.4,62.04 L243.4,62.52 L242.4,62.99 L241.4,63.48 L240.4,63.96 L239.4,64.45 L238.4,64.94 L237.4,65.43 L236.4,65.93 L235.4,66.42 L234.4,66.93 L233.4,67.43 L232.4,67.94 L231.4,68.45 L230.4,68.97 L229.4,69.48 L228.4,70.01 L227.4,70.53 L226.4,71.06 L225.4,71.59 L224.4,72.12 L223.4,72.66 L222.4,73.20 L221.4,73.74 L220.4,74.28 L219.4,74.83 L218.4,75.38 L217.4,75.94 L216.4,76.50 L215.4,77.06 L214.4,77.62 L213.4,78.19 L212.4,78.76 L211.4,79.33 L210.4,79.91 L209.4,80.49 L208.4,81.07 L207.4,81.66 L206.4,82.25 L205.4,82.84 L204.4,83.44 L203.4,84.03 L202.4,84.64 L201.4,85.24 L200.4,85.85 L199.4,86.46 L198.4,87.08 L197.4,87.69 L196.4,88.31 L195.4,88.94 L194.4,89.56 L193.4,90.20 L192.4,90.83 L191.4,91.47 L190.4,92.11 L189.4,92.75 L188.4,93.40 L187.4,94.05 L186.4,94.70 L185.4,95.36 L184.4,96.02 L183.4,96.68 L182.4,97.35 L181.4,98.02 L180.4,98.69 L179.4,99.37 L178.4,100.05 L177.4,100.73 L176.4,101.42 L175.4,102.11 L174.4,102.81 L173.4,103.51 L172.4,104.21 L171.4,104.92 L170.4,105.62 L169.4,106.34 L168.4,107.06 L167.4,107.78 L166.4,108.50 L165.4,109.23 L164.4,109.96 L163.4,110.70 L162.4,111.44 L161.4,112.18 L160.4,112.93 L159.4,113.68 L158.4,114.44 L157.4,115.20 L156.4,115.97 L155.4,116.73 L154.4,117.51 L153.4,118.29 L152.4,119.07 L151.4,119.85 L150.4,120.64 L149.4,121.44 L148.4,122.24 L147.4,123.04 L146.4,123.85 L145.4,124.67 L144.4,125.48 L143.4,126.31 L142.4,127.13 L141.4,127.97 L140.4,128.80 L139.4,129.65 L138.4,130.49 L137.4,131.35 L136.4,132.20 L135.4,133.07 L134.4,133.93 L133.4,134.81 L132.4,135.68 L131.4,136.57 L130.4,137.46 L129.4,138.35 L128.4,139.25 L127.5,140.16 L126.5,141.07 L125.5,141.99 L124.5,142.91 L123.5,143.85 L122.5,144.80 L121.5,145.75 L120.5,146.71 L119.5,147.67 L118.5,148.64 L117.5,149.61 L116.5,150.59 L115.5,151.58 L114.5,152.58 L113.5,153.58 L112.5,154.58 L111.5,155.60 L110.5,156.62 L109.5,157.65 L108.5,158.68 L107.5,159.72 L106.5,160.77 L105.5,161.83 L104.5,162.89 L103.5,163.96 L102.5,165.04 L101.5,166.12 L100.5,167.21 L99.5,168.31 L98.5,169.42 L97.5,170.54 L96.5,171.66 L95.5,172.79 L94.5,173.93 L93.5,175.07 L92.5,176.23 L91.5,177.39 L90.5,178.56 L89.5,179.74 L88.5,180.93 L87.5,182.13 L86.5,183.33 L85.5,184.55 L84.5,185.77 L83.5,187.00 L82.5,188.25 L81.5,189.50 L80.5,190.76 L79.5,192.02 L78.5,193.29 L77.5,194.56 L76.5,195.85 L75.5,197.15 L74.5,198.46 L73.5,199.77 L72.5,201.10 L71.5,202.44 L70.5,203.78 L69.5,205.14 L68.5,206.51 L67.5,207.88 L66.5,209.27 L65.5,210.67 L64.5,212.08 L63.5,213.50 L62.5,214.94 L61.5,216.38 L60.5,217.83 L59.5,219.30 L58.5,220.78 L57.5,222.27 L56.5,223.77 L55.5,225.28 L54.5,226.80 L53.5,228.34 L52.5,229.89 L51.5,231.45 L50.5,233.02 L49.5,234.61 L48.5,236.20 L47.5,237.81 L46.5,239.44 L45.5,241.07 L44.5,242.72 L43.5,244.39 L42.5,246.06Z" fill="#fbd0d0"/><path d="M42.5,244.33 L43.5,242.68 L44.5,241.03 L45.5,239.40 L46.5,237.78 L47.5,236.17 L48.5,234.58 L49.5,232.99 L50.5,231.41 L51.5,229.85 L52.5,228.29 L53.5,226.75 L54.5,225.21 L55.5,223.69 L56.5,222.18 L57.5,220.67 L58.5,219.18 L59.5,217.70 L60.5,216.22 L61.5,214.76 L62.5,213.31 L63.5,211.86 L64.5,210.43 L65.5,209.01 L66.5,207.59 L67.5,206.19 L68.5,204.79 L69.5,203.40 L70.5,202.03 L71.5,200.66 L72.5,199.30 L73.5,197.95 L74.5,196.61 L75.5,195.28 L76.5,193.95 L77.5,192.64 L78.5,191.33 L79.5,190.03 L80.5,188.75 L81.5,187.48 L82.5,186.22 L83.5,184.96 L84.5,183.72 L85.5,182.48 L86.5,181.25 L87.5,180.03 L88.5,178.82 L89.5,177.61 L90.5,176.42 L91.5,175.23 L92.5,174.04 L93.5,172.87 L94.5,171.70 L95.5,170.55 L96.5,169.39 L97.5,168.25 L98.5,167.11 L99.5,165.99 L100.5,164.86 L101.5,163.75 L102.5,162.64 L103.5,161.54 L104.5,160.45 L105.5,159.36 L106.5,158.28 L107.5,157.21 L108.5,156.14 L109.5,155.08 L110.5,154.03 L111.5,152.99 L112.5,151.95 L113.5,150.92 L114.5,149.89 L115.5,148.87 L116.5,147.86 L117.5,146.85 L118.5,145.85 L119.5,144.85 L120.5,143.87 L121.5,142.88 L122.5,141.91 L123.5,140.94 L124.5,139.97 L125.5,139.01 L126.5,138.05 L127.5,137.09 L128.4,136.14 L129.4,135.20 L130.4,134.26 L131.4,133.32 L132.4,132.40 L133.4,131.47 L134.4,130.56 L135.4,129.64 L136.4,128.74 L137.4,127.84 L138.4,126.94 L139.4,126.05 L140.4,125.17 L141.4,124.29 L142.4,123.41 L143.4,122.54 L144.4,121.68 L145.4,120.82 L146.4,119.97 L147.4,119.12 L148.4,118.27 L149.4,117.43 L150.4,116.60 L151.4,115.77 L152.4,114.95 L153.4,114.13 L154.4,113.31 L155.4,112.50 L156.4,111.69 L157.4,110.89 L158.4,110.09 L159.4,109.30 L160.4,108.51 L161.4,107.73 L162.4,106.95 L163.4,106.18 L164.4,105.41 L165.4,104.64 L166.4,103.88 L167.4,103.12 L168.4,102.37 L169.4,101.62 L170.4,100.88 L171.4,100.14 L172.4,99.40 L173.4,98.67 L174.4,97.94 L175.4,97.22 L176.4,96.50 L177.4,95.78 L178.4,95.07 L179.4,94.36 L180.4,93.66 L181.4,92.96 L182.4,92.26 L183.4,91.57 L184.4,90.88 L185.4,90.19 L186.4,89.51 L187.4,88.84 L188.4,88.16 L189.4,87.49 L190.4,86.83 L191.4,86.17 L192.4,85.51 L193.4,84.85 L194.4,84.20 L195.4,83.55 L196.4,82.91 L197.4,82.27 L198.4,81.63 L199.4,81.00 L200.4,80.37 L201.4,79.75 L202.4,79.12 L203.4,78.50 L204.4,77.89 L205.4,77.28 L206.4,76.67 L207.4,76.06 L208.4,75.46 L209.4,74.86 L210.4,74.27 L211.4,73.68 L212.4,73.09 L213.4,72.50 L214.4,71.92 L215.4,71.34 L216.4,70.77 L217.4,70.20 L218.4,69.63 L219.4,69.07 L220.4,68.51 L221.4,67.95 L222.4,67.39 L223.4,66.84 L224.4,66.29 L225.4,65.75 L226.4,65.21 L227.4,64.67 L228.4,64.13 L229.4,63.60 L230.4,63.07 L231.4,62.55 L232.4,62.03 L233.4,61.51 L234.4,60.99 L235.4,60.48 L236.4,59.97 L237.4,59.46 L238.4,58.96 L239.4,58.46 L240.4,57.96 L241.4,57.47 L242.4,56.98 L243.4,56.49 L244.4,56.00 L245.4,55.52 L246.4,55.04 L247.4,54.57 L248.4,54.10 L249.4,53.63 L250.4,53.16 L251.4,52.70 L252.4,52.23 L253.4,51.78 L254.4,51.32 L255.4,50.87 L256.4,50.42 L257.4,49.98 L258.4,49.53 L259.4,49.09 L260.4,48.66 L261.4,48.22 L262.4,47.79 L263.4,47.36 L264.4,46.93 L265.4,46.51 L266.4,46.09 L267.4,45.67 L268.4,45.26 L269.4,44.85 L270.4,44.44 L271.4,44.03 L272.4,43.63 L273.4,43.23 L274.4,42.83 L275.4,42.44 L276.4,42.05 L277.4,41.66 L278.4,41.27 L279.4,40.89 L280.4,40.50 L281.4,40.13 L282.4,39.75 L283.4,39.38 L284.4,39.01 L285.4,38.64 L286.4,38.27 L287.4,37.91 L288.4,37.55 L289.4,37.19 L290.4,36.84 L291.4,36.48 L292.4,36.13 L293.4,35.79 L294.4,35.44 L295.4,35.10 L296.4,34.76 L297.4,34.42 L298.4,34.09 L299.4,33.76 L300.4,33.43 L301.4,33.10 L302.4,32.78 L303.4,32.45 L304.4,32.13 L305.4,31.82 L306.4,31.50 L307.4,31.19 L308.4,30.88 L309.4,30.57 L310.4,30.27 L311.4,29.97 L312.4,29.67 L313.4,29.37 L314.4,29.07 L315.4,28.78 L316.4,28.49 L317.4,28.20 L318.4,27.91 L319.4,27.63 L320.4,27.35 L321.4,27.07 L322.4,26.79 L323.4,26.52 L324.4,26.25 L325.4,25.98 L326.4,25.71 L327.4,25.44 L328.4,25.18 L329.4,24.92 L330.4,24.66 L331.4,24.40 L332.4,24.15 L333.4,23.89 L334.4,23.64 L335.4,23.40 L336.4,23.15 L337.4,22.91 L338.4,22.67 L339.4,22.43 L340.4,22.19 L341.4,21.95 L342.4,21.72 L343.4,21.49 L344.4,21.26 L345.4,21.03 L346.4,20.81 L347.4,20.59 L348.4,20.37 L349.4,20.15 L350.4,19.93 L351.4,19.72 L352.4,19.50 L353.4,19.29 L354.4,19.09 L355.4,18.88 L356.4,18.67 L357.4,18.47 L358.4,18.27 L359.4,18.07 L360.4,17.88 L361.4,17.68 L362.4,17.49 L363.4,17.30 L364.4,17.11 L365.4,16.92 L366.4,16.74 L367.4,16.55 L368.4,16.37 L369.4,16.19 L370.4,16.01 L371.4,15.84 L372.4,15.66 L373.4,15.49 L374.4,15.32 L375.4,15.15 L377.2,14.85" stroke="#f01414" stroke-width="1.65"/><path d="M42.5,246.06 L43.5,244.39 L44.5,242.72 L45.5,241.07 L46.5,239.44 L47.5,237.81 L48.5,236.20 L49.5,234.61 L50.5,233.02 L51.5,231.45 L52.5,229.89 L53.5,228.34 L54.5,226.80 L55.5,225.28 L56.5,223.77 L57.5,222.27 L58.5,220.78 L59.5,219.30 L60.5,217.83 L61.5,216.38 L62.5,214.94 L63.5,213.50 L64.5,212.08 L65.5,210.67 L66.5,209.27 L67.5,207.88 L68.5,206.51 L69.5,205.14 L70.5,203.78 L71.5,202.44 L72.5,201.10 L73.5,199.77 L74.5,198.46 L75.5,197.15 L76.5,195.85 L77.5,194.56 L78.5,193.29 L79.5,192.02 L80.5,190.76 L81.5,189.50 L82.5,188.25 L83.5,187.00 L84.5,185.77 L85.5,184.55 L86.5,183.33 L87.5,182.13 L88.5,180.93 L89.5,179.74 L90.5,178.56 L91.5,177.39 L92.5,176.23 L93.5,175.07 L94.5,173.93 L95.5,172.79 L96.5,171.66 L97.5,170.54 L98.5,169.42 L99.5,168.31 L100.5,167.21 L101.5,166.12 L102.5,165.04 L103.5,163.96 L104.5,162.89 L105.5,161.83 L106.5,160.77 L107.5,159.72 L108.5,158.68 L109.5,157.65 L110.5,156.62 L111.5,155.60 L112.5,154.58 L113.5,153.58 L114.5,152.58 L115.5,151.58 L116.5,150.59 L117.5,149.61 L118.5,148.64 L119.5,147.67 L120.5,146.71 L121.5,145.75 L122.5,144.80 L123.5,143.85 L124.5,142.91 L125.5,141.99 L126.5,141.07 L127.5,140.16 L128.4,139.25 L129.4,138.35 L130.4,137.46 L131.4,136.57 L132.4,135.68 L133.4,134.81 L134.4,133.93 L135.4,133.07 L136.4,132.20 L137.4,131.35 L138.4,130.49 L139.4,129.65 L140.4,128.80 L141.4,127.97 L142.4,127.13 L143.4,126.31 L144.4,125.48 L145.4,124.67 L146.4,123.85 L147.4,123.04 L148.4,122.24 L149.4,121.44 L150.4,120.64 L151.4,119.85 L152.4,119.07 L153.4,118.29 L154.4,117.51 L155.4,116.73 L156.4,115.97 L157.4,115.20 L158.4,114.44 L159.4,113.68 L160.4,112.93 L161.4,112.18 L162.4,111.44 L163.4,110.70 L164.4,109.96 L165.4,109.23 L166.4,108.50 L167.4,107.78 L168.4,107.06 L169.4,106.34 L170.4,105.62 L171.4,104.92 L172.4,104.21 L173.4,103.51 L174.4,102.81 L175.4,102.11 L176.4,101.42 L177.4,100.73 L178.4,100.05 L179.4,99.37 L180.4,98.69 L181.4,98.02 L182.4,97.35 L183.4,96.68 L184.4,96.02 L185.4,95.36 L186.4,94.70 L187.4,94.05 L188.4,93.40 L189.4,92.75 L190.4,92.11 L191.4,91.47 L192.4,90.83 L193.4,90.20 L194.4,89.56 L195.4,88.94 L196.4,88.31 L197.4,87.69 L198.4,87.08 L199.4,86.46 L200.4,85.85 L201.4,85.24 L202.4,84.64 L203.4,84.03 L204.4,83.44 L205.4,82.84 L206.4,82.25 L207.4,81.66 L208.4,81.07 L209.4,80.49 L210.4,79.91 L211.4,79.33 L212.4,78.76 L213.4,78.19 L214.4,77.62 L215.4,77.06 L216.4,76.50 L217.4,75.94 L218.4,75.38 L219.4,74.83 L220.4,74.28 L221.4,73.74 L222.4,73.20 L223.4,72.66 L224.4,72.12 L225.4,71.59 L226.4,71.06 L227.4,70.53 L228.4,70.01 L229.4,69.48 L230.4,68.97 L231.4,68.45 L232.4,67.94 L233.4,67.43 L234.4,66.93 L235.4,66.42 L236.4,65.93 L237.4,65.43 L238.4,64.94 L239.4,64.45 L240.4,63.96 L241.4,63.48 L242.4,62.99 L243.4,62.52 L244.4,62.04 L245.4,61.57 L246.4,61.10 L247.4,60.63 L248.4,60.17 L249.4,59.71 L250.4,59.26 L251.4,58.80 L252.4,58.35 L253.4,57.90 L254.4,57.46 L255.4,57.02 L256.4,56.58 L257.4,56.14 L258.4,55.71 L259.4,55.28 L260.4,54.85 L261.4,54.43 L262.4,54.01 L263.4,53.59 L264.4,53.17 L265.4,52.76 L266.4,52.35 L267.4,51.94 L268.4,51.54 L269.4,51.14 L270.4,50.74 L271.4,50.35 L272.4,49.95 L273.4,49.57 L274.4,49.18 L275.4,48.80 L276.4,48.41 L277.4,48.04 L278.4,47.66 L279.4,47.29 L280.4,46.92 L281.4,46.55 L282.4,46.19 L283.4,45.83 L284.4,45.47 L285.4,45.12 L286.4,44.76 L287.4,44.41 L288.4,44.07 L289.4,43.72 L290.4,43.38 L291.4,43.04 L292.4,42.70 L293.4,42.37 L294.4,42.04 L295.4,41.71 L296.4,41.39 L297.4,41.06 L298.4,40.74 L299.4,40.43 L300.4,40.11 L301.4,39.80 L302.4,39.49 L303.4,39.18 L304.4,38.88 L305.4,38.58 L306.4,38.28 L307.4,37.98 L308.4,37.69 L309.4,37.40 L310.4,37.11 L311.4,36.82 L312.4,36.54 L313.4,36.25 L314.4,35.98 L315.4,35.70 L316.4,35.43 L317.4,35.15 L318.4,34.89 L319.4,34.62 L320.4,34.36 L321.4,34.09 L322.4,33.83 L323.4,33.58 L324.4,33.32 L325.4,33.07 L326.4,32.82 L327.4,32.57 L328.4,32.33 L329.4,32.09 L330.4,31.85 L331.4,31.61 L332.4,31.37 L333.4,31.14 L334.4,30.91 L335.4,30.68 L336.4,30.45 L337.4,30.23 L338.4,30.01 L339.4,29.79 L340.4,29.57 L341.4,29.35 L342.4,29.14 L343.4,28.93 L344.4,28.72 L345.4,28.51 L346.4,28.31 L347.4,28.11 L348.4,27.91 L349.4,27.71 L350.4,27.51 L351.4,27.32 L352.4,27.12 L353.4,26.93 L354.4,26.75 L355.4,26.56 L356.4,26.37 L357.4,26.19 L358.4,26.01 L359.4,25.83 L360.4,25.66 L361.4,25.48 L362.4,25.31 L363.4,25.14 L364.4,24.97 L365.4,24.80 L366.4,24.64 L367.4,24.47 L368.4,24.31 L369.4,24.15 L370.4,23.99 L371.4,23.84 L372.4,23.68 L373.4,23.53 L374.4,23.38 L375.4,23.23 L377.2,22.96" stroke="#f01414" stroke-width="1.65"/></g><path d="M50.1,335.0 v-1.9 M50.1,0.15 v1.9 M65.0,335.0 v-1.9 M65.0,0.15 v1.9 M80.0,335.0 v-3.1 M80.0,0.15 v3.1 M94.7,335.0 v-1.9 M94.7,0.15 v1.9 M109.6,335.0 v-1.9 M109.6,0.15 v1.9 M124.5,335.0 v-1.9 M124.5,0.15 v1.9 M139.3,335.0 v-1.9 M139.3,0.15 v1.9 M154.5,335.0 v-3.1 M154.5,0.15 v3.1 M169.1,335.0 v-1.9 M169.1,0.15 v1.9 M183.9,335.0 v-1.9 M183.9,0.15 v1.9 M198.8,335.0 v-1.9 M198.8,0.15 v1.9 M213.7,335.0 v-1.9 M213.7,0.15 v1.9 M228.5,335.0 v-3.1 M228.5,0.15 v3.1 M243.4,335.0 v-1.9 M243.4,0.15 v1.9 M258.3,335.0 v-1.9 M258.3,0.15 v1.9 M273.1,335.0 v-1.9 M273.1,0.15 v1.9 M288.0,335.0 v-1.9 M288.0,0.15 v1.9 M302.8,335.0 v-3.1 M302.8,0.15 v3.1 M317.7,335.0 v-1.9 M317.7,0.15 v1.9 M332.6,335.0 v-1.9 M332.6,0.15 v1.9 M347.5,335.0 v-1.9 M347.5,0.15 v1.9 M362.3,335.0 v-1.9 M362.3,0.15 v1.9 M377.2,335.0 v-3.1 M377.2,0.15 v3.1 M42.45,335.0 h3.1 M377.25,335.0 h-3.1 M42.45,322.8 h1.9 M377.25,322.8 h-1.9 M42.45,310.8 h1.9 M377.25,310.8 h-1.9 M42.45,298.9 h1.9 M377.25,298.9 h-1.9 M42.45,286.9 h1.9 M377.25,286.9 h-1.9 M42.45,275.4 h3.1 M377.25,275.4 h-3.1 M42.45,263.0 h1.9 M377.25,263.0 h-1.9 M42.45,251.0 h1.9 M377.25,251.0 h-1.9 M42.45,239.0 h1.9 M377.25,239.0 h-1.9 M42.45,227.1 h1.9 M377.25,227.1 h-1.9 M42.45,215.4 h3.1 M377.25,215.4 h-3.1 M42.45,203.1 h1.9 M377.25,203.1 h-1.9 M42.45,191.2 h1.9 M377.25,191.2 h-1.9 M42.45,179.2 h1.9 M377.25,179.2 h-1.9 M42.45,167.2 h1.9 M377.25,167.2 h-1.9 M42.45,155.4 h3.1 M377.25,155.4 h-3.1 M42.45,143.3 h1.9 M377.25,143.3 h-1.9 M42.45,131.3 h1.9 M377.25,131.3 h-1.9 M42.45,119.4 h1.9 M377.25,119.4 h-1.9 M42.45,107.4 h1.9 M377.25,107.4 h-1.9 M42.45,95.5 h3.1 M377.25,95.5 h-3.1 M42.45,83.5 h1.9 M377.25,83.5 h-1.9 M42.45,71.5 h1.9 M377.25,71.5 h-1.9 M42.45,59.6 h1.9 M377.25,59.6 h-1.9 M42.45,47.6 h1.9 M377.25,47.6 h-1.9 M42.45,35.6 h3.1 M377.25,35.6 h-3.1 M42.45,23.7 h1.9 M377.25,23.7 h-1.9 M42.45,11.7 h1.9 M377.25,11.7 h-1.9" stroke="#555" stroke-width="0.85" fill="none"/><path d="M42.45,0.15 V335.0 H377.25 V0.15 Z" stroke="#6e6e6e" stroke-width="1.15" fill="none"/><path d="M49.6,27.9 H75.8" stroke="#686868" stroke-width="1.3" stroke-dasharray="8.2 5.5" fill="none"/><path d="M49.6,48.3 H75.2" stroke="#444" stroke-width="1.05" stroke-dasharray="2.1 1.0" fill="none"/><path d="M49.6,69.0 H75.8" stroke="#8cc24f" stroke-width="1.6" fill="none"/><path d="M49.6,89.3 H75.8" stroke="#2a9fd8" stroke-width="1.25" fill="none"/><path d="M49.6,109.8 H75.8" stroke="#f64a4a" stroke-width="1.6" fill="none"/></svg>
<div style="position:absolute;white-space:nowrap;font-size:14.2px;line-height:1;right:339.7px;top:327.45px;">0</div><div style="position:absolute;white-space:nowrap;font-size:14.2px;line-height:1;right:339.7px;top:267.80px;">50</div><div style="position:absolute;white-space:nowrap;font-size:14.2px;line-height:1;right:339.7px;top:207.85px;">100</div><div style="position:absolute;white-space:nowrap;font-size:14.2px;line-height:1;right:339.7px;top:147.85px;">150</div><div style="position:absolute;white-space:nowrap;font-size:14.2px;line-height:1;right:339.7px;top:87.95px;">200</div><div style="position:absolute;white-space:nowrap;font-size:14.2px;line-height:1;right:339.7px;top:28.05px;">250</div><div style="position:absolute;white-space:nowrap;font-size:14.2px;line-height:1;left:30.099999999999994px;width:100px;text-align:center;top:336.95px;">1</div><div style="position:absolute;white-space:nowrap;font-size:14.2px;line-height:1;left:104.6px;width:100px;text-align:center;top:336.95px;">2</div><div style="position:absolute;white-space:nowrap;font-size:14.2px;line-height:1;left:178.6px;width:100px;text-align:center;top:336.95px;">3</div><div style="position:absolute;white-space:nowrap;font-size:14.2px;line-height:1;left:252.90000000000003px;width:100px;text-align:center;top:336.95px;">4</div><div style="position:absolute;white-space:nowrap;font-size:14.2px;line-height:1;left:327.3px;width:100px;text-align:center;top:336.95px;">5</div><div style="position:absolute;white-space:nowrap;font-size:12.4px;line-height:1;left:81.5px;top:21.75px;"><span style="display:inline-block;transform-origin:0 50%;transform:scaleX(1.0802)">Ann: Perturbative</span></div><div style="position:absolute;white-space:nowrap;font-size:12.4px;line-height:1;left:81.5px;top:42.25px;"><span style="display:inline-block;transform-origin:0 50%;transform:scaleX(0.9948)">Ann: GE</span></div><div style="position:absolute;white-space:nowrap;font-size:12.4px;line-height:1;left:81.5px;top:63.05px;"><span style="display:inline-block;transform-origin:0 50%;transform:scaleX(1.0171)">Ann: GHE</span></div><div style="position:absolute;white-space:nowrap;font-size:12.4px;line-height:1;left:81.5px;top:83.45px;"><span style="display:inline-block;transform-origin:0 50%;transform:scaleX(0.9989)">Ann + BSF: GE</span></div><div style="position:absolute;white-space:nowrap;font-size:12.4px;line-height:1;left:81.5px;top:103.95px;"><span style="display:inline-block;transform-origin:0 50%;transform:scaleX(1.0029)">Ann + BSF: GHE</span></div><div style="position:absolute;white-space:nowrap;font-size:11.8px;line-height:1;left:91.7px;top:7.09px;"><span style="font-weight:bold;display:inline-block;transform-origin:0 50%;transform:scaleX(1.16)"><i>α<sub style="font-size:0.7em;vertical-align:-0.25em;line-height:0">h</sub></i> = 0.2</span></div><div style="position:absolute;white-space:nowrap;font-size:14.2px;line-height:1;left:182.0px;top:356.15px;"><i style="display:inline-block;transform-origin:0 50%;transform:scaleX(1.12)">m</i></div><div style="position:absolute;white-space:nowrap;font-size:10.6px;line-height:1;left:193.4px;top:362.36px;"><i>χ</i></div><div style="position:absolute;white-space:nowrap;font-size:14.0px;line-height:1;left:206.7px;top:356.33px;"><span style="display:inline-block;transform-origin:0 50%;transform:scaleX(0.945)">[TeV]</span></div><div style="position:absolute;white-space:nowrap;font-size:14.2px;line-height:1;left:13.9px;top:198.2px;transform-origin:0 0;transform:rotate(-90deg) translateY(-12.65px) scaleX(0.98)">Δm</div><div style="position:absolute;white-space:nowrap;font-size:14.2px;line-height:1;left:13.9px;top:170.6px;transform-origin:0 0;transform:rotate(-90deg) translateY(-12.65px) scaleX(0.95)">[GeV]</div>
</div>
</body></html>
